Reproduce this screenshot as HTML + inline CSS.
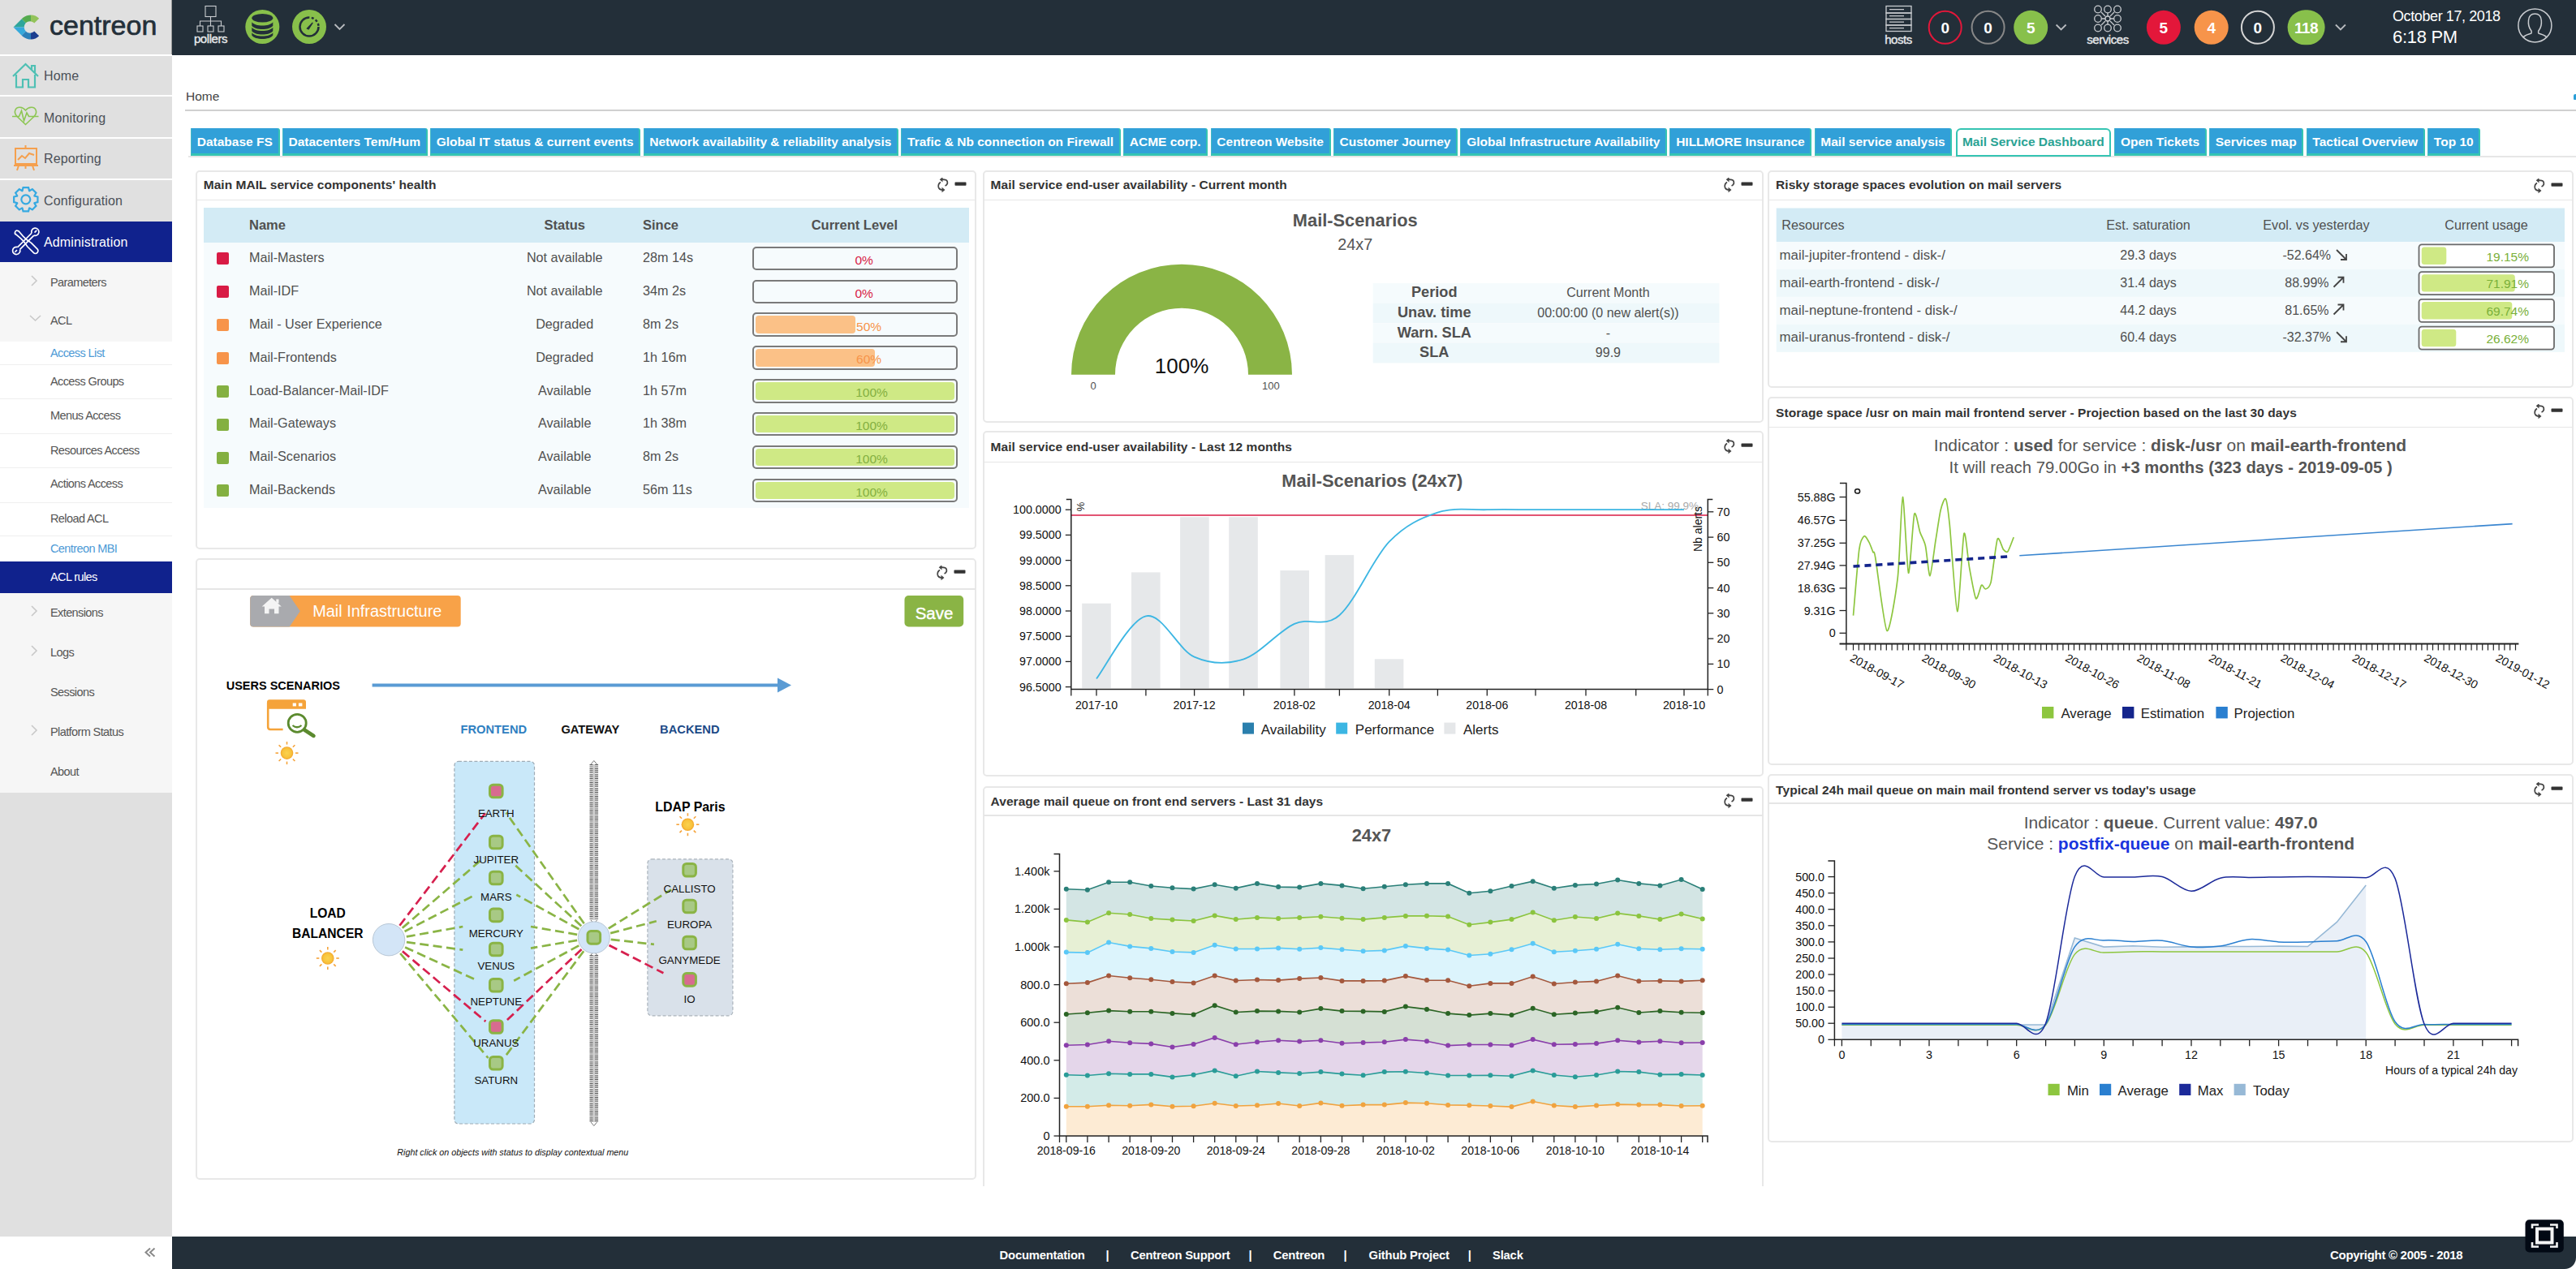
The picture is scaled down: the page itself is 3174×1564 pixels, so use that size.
<!DOCTYPE html>
<html><head><meta charset="utf-8">
<style>
*{box-sizing:border-box;margin:0;padding:0}
html,body{width:3174px;height:1564px;overflow:hidden;background:#fff;font-family:"Liberation Sans",sans-serif;color:#333;position:relative}
.abs{position:absolute}
#side{position:absolute;left:0;top:0;width:212px;height:1564px;background:#e0e0e0}
#top{position:absolute;left:212px;top:0;width:2962px;height:68px;background:#232f39}
#foot{position:absolute;left:212px;top:1524px;width:2962px;height:40px;background:#232f39;border-bottom-right-radius:14px}
.tx{white-space:nowrap;line-height:1}
.mi{position:absolute;left:0;width:212px;height:49px;background:#e0e0e0;border-top:2px solid #fff}
.mi span{position:absolute;left:54px;top:13px;font-size:16px;color:#4a4f55;letter-spacing:0.1px}
.sub{position:absolute;left:62px;font-size:14.5px;color:#444;letter-spacing:-0.6px;white-space:nowrap}
.subline{position:absolute;left:0;width:212px;height:1px;background:#eee}
.tab{position:absolute;top:158px;height:34px;background:#31a0d8;border-bottom:3px solid #35c4b2;border-right:2px solid #35c4b2;color:#fff;font-weight:bold;font-size:15.5px;padding:9px 0 0 8px;white-space:nowrap;border-top-right-radius:3px}
.tb{height:33.5px;background:#31a0d8;border-bottom:3px solid #35c4b2;border-left:1px solid #44b9c4;border-right:2px solid #35c4b2;color:#fff;font-weight:bold;font-size:15.5px;line-height:1;padding:8.6px 6.75px 0 6.75px;white-space:nowrap;border-top-right-radius:3px}
.tb.act{background:#fff;color:#2aa394;border:2px solid #35c4b2;height:35px;padding:6.6px 6.25px 0 6.25px;border-radius:6px 6px 0 0;margin:0 1px}
.card{position:absolute;border:2px solid #e8e8e8;border-radius:5px;background:#fff}
.ch{position:absolute;left:0;top:0;right:0;height:35px;border-bottom:1px solid #e3e3e3}
.ct{position:absolute;left:9px;top:6.5px;font-weight:bold;font-size:15.5px;color:#333;white-space:nowrap}
</style></head><body>
<!-- SIDEBAR -->
<div id="side">
<div class="abs" style="left:0;top:67px;width:212px;height:2px;background:#fff"></div>
<div class="abs" style="left:211px;top:0;width:1px;height:67px;background:#9a9a9a"></div>
<div class="abs" style="left:0;top:117px;width:212px;height:2px;background:#fff"></div>
<div class="abs" style="left:0;top:169px;width:212px;height:2px;background:#fff"></div>
<div class="abs" style="left:0;top:220px;width:212px;height:2px;background:#fff"></div>
<div class="abs" style="left:0;top:273px;width:212px;height:50px;background:#10228d"></div>
<div class="abs" style="left:0;top:323px;width:212px;height:98px;background:#f6f6f6"></div>
<div class="abs" style="left:0;top:421px;width:212px;height:271px;background:#fff"></div>
<div class="abs" style="left:0;top:449px;width:212px;height:1px;background:#efefef"></div>
<div class="abs" style="left:0;top:491px;width:212px;height:1px;background:#efefef"></div>
<div class="abs" style="left:0;top:534px;width:212px;height:1px;background:#efefef"></div>
<div class="abs" style="left:0;top:576px;width:212px;height:1px;background:#efefef"></div>
<div class="abs" style="left:0;top:619px;width:212px;height:1px;background:#efefef"></div>
<div class="abs" style="left:0;top:660px;width:212px;height:1px;background:#efefef"></div>
<div class="abs" style="left:0;top:692px;width:212px;height:39px;background:#10228d"></div>
<div class="abs" style="left:0;top:731px;width:212px;height:246px;background:#f6f6f6"></div>
<div class="abs" style="left:0;top:1524px;width:212px;height:40px;background:#fff"></div>
<div class="abs tx" style="left:54px;top:86.4px;font-size:16px;color:#4b5058;letter-spacing:0.15px">Home</div>
<div class="abs tx" style="left:54px;top:137.5px;font-size:16px;color:#4b5058;letter-spacing:0.15px">Monitoring</div>
<div class="abs tx" style="left:54px;top:188.3px;font-size:16px;color:#4b5058;letter-spacing:0.15px">Reporting</div>
<div class="abs tx" style="left:54px;top:239.5px;font-size:16px;color:#4b5058;letter-spacing:0.15px">Configuration</div>
<div class="abs tx" style="left:54px;top:290.5px;font-size:16px;color:#fff;letter-spacing:0.15px">Administration</div>
<div class="abs tx" style="left:62px;top:340.7px;font-size:14.5px;color:#555;letter-spacing:-0.6px">Parameters</div>
<div class="abs tx" style="left:62px;top:388.0px;font-size:14.5px;color:#555;letter-spacing:-0.6px">ACL</div>
<div class="abs tx" style="left:62px;top:427.7px;font-size:14.5px;color:#4d9ad6;letter-spacing:-0.6px">Access List</div>
<div class="abs tx" style="left:62px;top:463.3px;font-size:14.5px;color:#555;letter-spacing:-0.6px">Access Groups</div>
<div class="abs tx" style="left:62px;top:504.7px;font-size:14.5px;color:#555;letter-spacing:-0.6px">Menus Access</div>
<div class="abs tx" style="left:62px;top:547.5px;font-size:14.5px;color:#555;letter-spacing:-0.6px">Resources Access</div>
<div class="abs tx" style="left:62px;top:589.1px;font-size:14.5px;color:#555;letter-spacing:-0.6px">Actions Access</div>
<div class="abs tx" style="left:62px;top:631.7px;font-size:14.5px;color:#555;letter-spacing:-0.6px">Reload ACL</div>
<div class="abs tx" style="left:62px;top:668.5px;font-size:14.5px;color:#4d9ad6;letter-spacing:-0.6px">Centreon MBI</div>
<div class="abs tx" style="left:62px;top:703.7px;font-size:14.5px;color:#fff;letter-spacing:-0.6px">ACL rules</div>
<div class="abs tx" style="left:62px;top:748.0px;font-size:14.5px;color:#555;letter-spacing:-0.6px">Extensions</div>
<div class="abs tx" style="left:62px;top:797.2px;font-size:14.5px;color:#555;letter-spacing:-0.6px">Logs</div>
<div class="abs tx" style="left:62px;top:846.3px;font-size:14.5px;color:#555;letter-spacing:-0.6px">Sessions</div>
<div class="abs tx" style="left:62px;top:894.6px;font-size:14.5px;color:#555;letter-spacing:-0.6px">Platform Status</div>
<div class="abs tx" style="left:62px;top:944.2px;font-size:14.5px;color:#555;letter-spacing:-0.6px">About</div>
<svg class="abs" style="left:0;top:0" width="212" height="1000"><path d="M39 340 L45 346 L39 352" fill="none" stroke="#c8c8c8" stroke-width="1.6"/><path d="M39 747 L45 753 L39 759" fill="none" stroke="#c8c8c8" stroke-width="1.6"/><path d="M39 796 L45 802 L39 808" fill="none" stroke="#c8c8c8" stroke-width="1.6"/><path d="M39 894 L45 900 L39 906" fill="none" stroke="#c8c8c8" stroke-width="1.6"/><path d="M37 389 L43.5 395 L50 389" fill="none" stroke="#c8c8c8" stroke-width="1.6"/><defs><clipPath id="lgc"><path d="M16.5 33.5 L28 22 C31 19.5 35 18.5 38.5 18.5 C42 18.5 45.5 20 48.2 22.8 L42.2 28.6 C40.7 27.2 39 26.3 37 26.3 C33 26.3 29.8 29.5 29.8 33.5 C29.8 37.5 33 40.7 37 40.7 C39 40.7 40.7 39.9 42.2 38.5 L48.2 44.3 C45.5 47 42 48.6 38.5 48.6 C35 48.6 31 47.5 28 45 Z"/></clipPath></defs>
<g clip-path="url(#lgc)">
<polygon points="10,33.5 37,33.5 19,15.5 10,15.5" fill="#2ea59a"/>
<polygon points="37,33.5 19,15.5 38,15.5 38,33.5" fill="#55ab4f"/>
<polygon points="38,15.5 55,15.5 55,33.5 38,33.5" fill="#93c35b"/>
<polygon points="10,33.5 37,33.5 19,51.5 10,51.5" fill="#35a9db"/>
<polygon points="37,33.5 19,51.5 38,51.5 38,33.5" fill="#2b80b9"/>
<polygon points="38,33.5 55,33.5 55,51.5 38,51.5" fill="#1c3e90"/>
</g><g fill="none" stroke="#4fc0b4" stroke-width="2.2"><path d="M16 94 L31.5 79 L47 94"/><path d="M20 92 V107.5 H28 V98 H35 V107.5 H43 V92"/><path d="M39 86 V81 H43 V90"/></g><g fill="none" stroke="#8dc653" stroke-width="1.6"><path d="M31.5 153.5 L21 143.5 C16 138 19 132 24.5 132.3 C27.5 132.5 30 134 31.5 136 C33 134 35.5 132.5 38.5 132.3 C44 132 47 138 42 143.5 Z"/><path d="M15 143.5 H23.5 L26.5 136.5 L29.5 149 L33 139 L35.5 143.5 H47.5"/></g><g fill="none" stroke="#f5a04e" stroke-width="2"><rect x="19" y="183" width="26" height="19"/><path d="M17 204 H47"/><path d="M23 204 L21 210 M31.5 204 V208 M40 204 L42 210"/><path d="M22 197 L27 192 L31 195 L36 189 L42 191"/><path d="M31.5 179 V183"/></g><g transform="translate(31.8,245.8)" fill="none" stroke="#35a9e1" stroke-width="2.2"><polygon points="14.64,-3.27 14.64,3.27 10.68,4.27 10.57,4.54 12.67,8.04 8.04,12.67 4.54,10.57 4.27,10.68 3.27,14.64 -3.27,14.64 -4.27,10.68 -4.54,10.57 -8.04,12.67 -12.67,8.04 -10.57,4.54 -10.68,4.27 -14.64,3.27 -14.64,-3.27 -10.68,-4.27 -10.57,-4.54 -12.67,-8.04 -8.04,-12.67 -4.54,-10.57 -4.27,-10.68 -3.27,-14.64 3.27,-14.64 4.27,-10.68 4.54,-10.57 8.04,-12.67 12.67,-8.04 10.57,-4.54 10.68,-4.27"/><circle r="5.5"/></g><g fill="none" stroke="#fff" stroke-width="1.7" stroke-linejoin="round">
<g transform="rotate(45 31.8 297.3)"><path d="M15.5 295.3 A2.5 2.5 0 0 1 18 294.8 L25 295.3 L31 295.3 L38 294 H48.5 A3.3 3.3 0 0 1 48.5 300.6 H38 L31 299.3 H25 L18 299.8 A2.5 2.5 0 0 1 15.5 295.3 Z"/></g>
<g transform="rotate(-45 31.8 297.3)"><path d="M19.5 295.3 H44 M19.5 299.3 H44"/><path d="M19.5 295.3 A4.6 4.6 0 1 0 19.5 299.3 M16.5 297.3 H12.8"/><path d="M44 295.3 A4.6 4.6 0 1 1 44 299.3 M47 297.3 H50.8"/></g>
</g></svg>
<svg class="abs" style="left:170px;top:1534px" width="30" height="20"><path d="M15 4.5 L9.5 9.5 L15 14.5 M20.5 4.5 L15 9.5 L20.5 14.5" fill="none" stroke="#8a8a8a" stroke-width="2"/></svg>
<div class="abs tx" style="left:61px;top:13.6px;font-size:34px;color:#232f39;-webkit-text-stroke:0.7px #232f39">centreon</div>
</div>
<!-- TOPBAR -->
<div id="top"></div>
<svg class="abs" style="left:0;top:0" width="3174" height="68">
<g fill="none" stroke="#c9ccd0" stroke-width="1.1">
<rect x="253" y="7.5" width="13" height="13"/>
<path d="M259.5 20.5 V26 M246.5 32 V26 H272.5 V32 M259.5 26 V32"/>
<rect x="243" y="32" width="7" height="7"/><rect x="256" y="32" width="7" height="7"/><rect x="269" y="32" width="7" height="7"/>
</g>
<text x="259.5" y="52.5" text-anchor="middle" font-size="15" fill="#e8eaec" stroke="#e8eaec" stroke-width="0.35" letter-spacing="-0.45">pollers</text>
<circle cx="323.3" cy="33" r="21" fill="#88c04b"/>
<ellipse cx="323.3" cy="22.3" rx="13" ry="5.3" fill="#232f39"/>
<path d="M310.3 27.3 C314 33 332.6 33 336.3 27.3 V31.8 C332.6 37.5 314 37.5 310.3 31.8Z" fill="#232f39"/>
<path d="M310.3 33.8 C314 39.5 332.6 39.5 336.3 33.8 V38.3 C332.6 44 314 44 310.3 38.3Z" fill="#232f39"/>
<path d="M310.3 40.3 C314 46 332.6 46 336.3 40.3 V43.5 C332.6 49.5 314 49.5 310.3 43.5Z" fill="#232f39"/>
<circle cx="381" cy="33" r="21" fill="#88c04b"/>
<circle cx="381" cy="33" r="11.5" fill="none" stroke="#232f39" stroke-width="2.5" stroke-dasharray="54.2 2.5 3 2.5 3 2.5 3 2.5 3 2.5" transform="rotate(0 381 33)"/>
<path d="M378.3 35.2 L385 28.3 L380.2 36 Z" fill="#232f39" stroke="#232f39" stroke-width="1.3" stroke-linejoin="round"/>
<path d="M412.5 30 L418.5 36 L424.5 30" fill="none" stroke="#b9bcc0" stroke-width="1.8"/>
<g fill="none" stroke="#c9ccd0" stroke-width="1.3">
<rect x="2324" y="7.5" width="31" height="8.5"/><rect x="2324" y="16" width="31" height="7.5"/><rect x="2324" y="23.5" width="31" height="7.5"/><rect x="2324" y="31" width="31" height="7.5"/>
<path d="M2328 11.7 H2346 M2328 19.7 H2346 M2328 27.2 H2346 M2328 34.7 H2346"/>
</g>
<text x="2339" y="53.5" text-anchor="middle" font-size="15" fill="#e8eaec" stroke="#e8eaec" stroke-width="0.35" letter-spacing="-0.45">hosts</text>
<circle cx="2396.7" cy="33.8" r="20" fill="none" stroke="#e3173a" stroke-width="2"/>
<text x="2396.7" y="41" text-anchor="middle" font-size="19" font-weight="bold" fill="#fff">0</text>
<circle cx="2449.6" cy="33.8" r="20" fill="none" stroke="#888" stroke-width="2"/>
<text x="2449.6" y="41" text-anchor="middle" font-size="19" font-weight="bold" fill="#fff">0</text>
<circle cx="2502.2" cy="33.8" r="21" fill="#88c04b"/>
<text x="2502.2" y="41" text-anchor="middle" font-size="19" font-weight="bold" fill="#fff">5</text>
<path d="M2533.6 30.5 L2539.6 36.5 L2545.6 30.5" fill="none" stroke="#b9bcc0" stroke-width="1.8"/>
<g fill="none" stroke="#c9ccd0" stroke-width="1.3">
<circle cx="2585" cy="11.5" r="4.3"/><circle cx="2597" cy="11.5" r="4.3"/><circle cx="2609" cy="11.5" r="4.3"/>
<circle cx="2585" cy="23" r="4.3"/><circle cx="2597" cy="23" r="3"/><circle cx="2609" cy="23" r="4.3"/>
<circle cx="2585" cy="34.5" r="4.3"/><circle cx="2597" cy="34.5" r="4.3"/><circle cx="2609" cy="34.5" r="4.3"/>
<path d="M2589 15 L2594 20 M2605 15 L2600 20 M2589 31 L2594 26 M2605 31 L2600 26 M2597 16 V20 M2597 26 V30 M2589.5 23 H2594 M2600 23 H2604.5"/>
</g>
<text x="2597" y="53.5" text-anchor="middle" font-size="15" fill="#e8eaec" stroke="#e8eaec" stroke-width="0.35" letter-spacing="-0.45">services</text>
<circle cx="2665.9" cy="33.8" r="21" fill="#e3173a"/>
<text x="2665.9" y="41" text-anchor="middle" font-size="19" font-weight="bold" fill="#fff">5</text>
<circle cx="2724.7" cy="33.8" r="21" fill="#f7944a"/>
<text x="2724.7" y="41" text-anchor="middle" font-size="19" font-weight="bold" fill="#fff">4</text>
<circle cx="2781.9" cy="33.8" r="20" fill="none" stroke="#d5d5d5" stroke-width="2"/>
<text x="2781.9" y="41" text-anchor="middle" font-size="19" font-weight="bold" fill="#fff">0</text>
<rect x="2818.6" y="12.3" width="46" height="43" rx="21.5" fill="#88c04b"/>
<text x="2841.6" y="41" text-anchor="middle" font-size="19" font-weight="bold" fill="#fff" letter-spacing="-0.5">118</text>
<path d="M2877.9 30.5 L2883.9 36.5 L2889.9 30.5" fill="none" stroke="#b9bcc0" stroke-width="1.8"/>
<text x="2948" y="25.5" font-size="18" fill="#fff" letter-spacing="-0.4">October 17, 2018</text>
<text x="2948" y="53.2" font-size="22" fill="#fff" letter-spacing="-0.3">6:18 PM</text>
<g fill="none" stroke="#c9ccd0" stroke-width="1.5">
<circle cx="3123.4" cy="31.4" r="20.5"/>
<path d="M3109 46 C3111 43 3115 42.5 3118.5 41.3 C3119.5 40.5 3119.5 38.5 3118.3 37 C3116 34 3115 30 3115.5 25 C3116 19.5 3119.5 17 3123.4 17 C3127.3 17 3130.8 19.5 3131.3 25 C3131.8 30 3130.8 34 3128.5 37 C3127.3 38.5 3127.3 40.5 3128.3 41.3 C3131.8 42.5 3135.8 43 3137.8 46"/>
</g>
</svg>
<!-- BREADCRUMB -->
<div class="abs" style="left:229px;top:110px;font-size:15.5px;color:#444">Home</div>
<div class="abs" style="left:228px;top:135px;width:2946px;height:2px;background:#d0d0d0"></div>
<div class="abs" style="left:3171px;top:115.5px;width:4px;height:7px;background:#2a9fd8;border-radius:2px 0 0 1px"></div>
<div class="abs" style="left:232px;top:192px;width:2942px;height:2px;background:#e6e6e6"></div>
<div id="tabs" class="abs" style="left:235px;top:158px;height:36px;display:flex;gap:3.2px;align-items:flex-start"><div class="tb">Database FS</div><div class="tb">Datacenters Tem/Hum</div><div class="tb">Global IT status &amp; current events</div><div class="tb">Network availability &amp; reliability analysis</div><div class="tb">Trafic &amp; Nb connection on Firewall</div><div class="tb">ACME corp.</div><div class="tb">Centreon Website</div><div class="tb">Customer Journey</div><div class="tb">Global Infrastructure Availability</div><div class="tb">HILLMORE Insurance</div><div class="tb">Mail service analysis</div><div class="tb act">Mail Service Dashboard</div><div class="tb">Open Tickets</div><div class="tb">Services map</div><div class="tb">Tactical Overview</div><div class="tb">Top 10</div></div>
<!-- CARDS -->
<div class="card" style="left:240.7px;top:209.8px;width:962.8px;height:467.1px"></div>
<div class="abs" style="left:241.7px;top:245.6px;width:960.8px;height:1.6px;background:#e6e6e6"></div>
<div class="abs tx" style="left:250.7px;top:219.7px;font-size:15.5px;font-weight:bold;color:#333;letter-spacing:0.05px">Main MAIL service components' health</div>
<div class="card" style="left:240.7px;top:687.5px;width:962.7px;height:766.7px"></div>
<div class="abs" style="left:241.7px;top:725.2px;width:960.7px;height:1.6px;background:#e6e6e6"></div>
<div class="card" style="left:1210.6px;top:209.8px;width:962.4px;height:310.8px"></div>
<div class="abs" style="left:1211.6px;top:245.6px;width:960.4px;height:1.6px;background:#e6e6e6"></div>
<div class="abs tx" style="left:1220.6px;top:219.7px;font-size:15.5px;font-weight:bold;color:#333;letter-spacing:0.05px">Mail service end-user availability - Current month</div>
<div class="card" style="left:1210.6px;top:531.4px;width:962.4px;height:426.1px"></div>
<div class="abs" style="left:1211.6px;top:568.6px;width:960.4px;height:1.6px;background:#e6e6e6"></div>
<div class="abs tx" style="left:1220.6px;top:542.7px;font-size:15.5px;font-weight:bold;color:#333;letter-spacing:0.05px">Mail service end-user availability - Last 12 months</div>
<div class="card" style="left:1210.6px;top:968.6px;width:962.4px;height:532.4px"></div>
<div class="abs" style="left:1211.6px;top:1004.0px;width:960.4px;height:1.6px;background:#e6e6e6"></div>
<div class="abs tx" style="left:1220.6px;top:979.7px;font-size:15.5px;font-weight:bold;color:#333;letter-spacing:0.05px">Average mail queue on front end servers - Last 31 days</div>
<div class="card" style="left:2178.1px;top:210.0px;width:993.2px;height:267.7px"></div>
<div class="abs" style="left:2179.1px;top:245.5px;width:991.2px;height:1.6px;background:#e6e6e6"></div>
<div class="abs tx" style="left:2188.1px;top:219.7px;font-size:15.5px;font-weight:bold;color:#333;letter-spacing:0.05px">Risky storage spaces evolution on mail servers</div>
<div class="card" style="left:2178.1px;top:488.9px;width:993.2px;height:454.4px"></div>
<div class="abs" style="left:2179.1px;top:525.9px;width:991.2px;height:1.6px;background:#e6e6e6"></div>
<div class="abs tx" style="left:2188.1px;top:500.5px;font-size:15.5px;font-weight:bold;color:#333;letter-spacing:0.05px">Storage space /usr on main mail frontend server - Projection based on the last 30 days</div>
<div class="card" style="left:2178.1px;top:954.1px;width:993.2px;height:453.7px"></div>
<div class="abs" style="left:2179.1px;top:989.4px;width:991.2px;height:1.6px;background:#e6e6e6"></div>
<div class="abs tx" style="left:2188.1px;top:965.8px;font-size:15.5px;font-weight:bold;color:#333;letter-spacing:0.05px">Typical 24h mail queue on main mail frontend server vs today's usage</div>
<div class="abs" style="left:1150px;top:1461.5px;width:1100px;height:62px;background:#fff"></div>
<!-- ICONS -->
<svg class="abs" style="left:1153.5px;top:219.3px" width="44" height="20"><g fill="none" stroke="#444" stroke-width="1.7"><path d="M5 5.5 C2.5 7 2 9.5 2.3 11.5 C2.8 14 4.5 15 8 15"/><path d="M10.5 10 C13 9 13.6 6.5 13.2 4.8 C12.8 3 11 2.2 7 2.2"/></g><path d="M6.5 11.8 L10.5 15 L6.5 18.2Z M7.5 -0.8 L3.7 2.2 L7.5 5.4Z" fill="#444"/><rect x="22.5" y="5.6" width="14" height="4.2" rx="0.8" fill="#333"/></svg>
<svg class="abs" style="left:1153.4px;top:697.0px" width="44" height="20"><g fill="none" stroke="#444" stroke-width="1.7"><path d="M5 5.5 C2.5 7 2 9.5 2.3 11.5 C2.8 14 4.5 15 8 15"/><path d="M10.5 10 C13 9 13.6 6.5 13.2 4.8 C12.8 3 11 2.2 7 2.2"/></g><path d="M6.5 11.8 L10.5 15 L6.5 18.2Z M7.5 -0.8 L3.7 2.2 L7.5 5.4Z" fill="#444"/><rect x="22.5" y="5.6" width="14" height="4.2" rx="0.8" fill="#333"/></svg>
<svg class="abs" style="left:2123.0px;top:219.3px" width="44" height="20"><g fill="none" stroke="#444" stroke-width="1.7"><path d="M5 5.5 C2.5 7 2 9.5 2.3 11.5 C2.8 14 4.5 15 8 15"/><path d="M10.5 10 C13 9 13.6 6.5 13.2 4.8 C12.8 3 11 2.2 7 2.2"/></g><path d="M6.5 11.8 L10.5 15 L6.5 18.2Z M7.5 -0.8 L3.7 2.2 L7.5 5.4Z" fill="#444"/><rect x="22.5" y="5.6" width="14" height="4.2" rx="0.8" fill="#333"/></svg>
<svg class="abs" style="left:2123.0px;top:540.9px" width="44" height="20"><g fill="none" stroke="#444" stroke-width="1.7"><path d="M5 5.5 C2.5 7 2 9.5 2.3 11.5 C2.8 14 4.5 15 8 15"/><path d="M10.5 10 C13 9 13.6 6.5 13.2 4.8 C12.8 3 11 2.2 7 2.2"/></g><path d="M6.5 11.8 L10.5 15 L6.5 18.2Z M7.5 -0.8 L3.7 2.2 L7.5 5.4Z" fill="#444"/><rect x="22.5" y="5.6" width="14" height="4.2" rx="0.8" fill="#333"/></svg>
<svg class="abs" style="left:2123.0px;top:978.1px" width="44" height="20"><g fill="none" stroke="#444" stroke-width="1.7"><path d="M5 5.5 C2.5 7 2 9.5 2.3 11.5 C2.8 14 4.5 15 8 15"/><path d="M10.5 10 C13 9 13.6 6.5 13.2 4.8 C12.8 3 11 2.2 7 2.2"/></g><path d="M6.5 11.8 L10.5 15 L6.5 18.2Z M7.5 -0.8 L3.7 2.2 L7.5 5.4Z" fill="#444"/><rect x="22.5" y="5.6" width="14" height="4.2" rx="0.8" fill="#333"/></svg>
<svg class="abs" style="left:3121.3px;top:219.5px" width="44" height="20"><g fill="none" stroke="#444" stroke-width="1.7"><path d="M5 5.5 C2.5 7 2 9.5 2.3 11.5 C2.8 14 4.5 15 8 15"/><path d="M10.5 10 C13 9 13.6 6.5 13.2 4.8 C12.8 3 11 2.2 7 2.2"/></g><path d="M6.5 11.8 L10.5 15 L6.5 18.2Z M7.5 -0.8 L3.7 2.2 L7.5 5.4Z" fill="#444"/><rect x="22.5" y="5.6" width="14" height="4.2" rx="0.8" fill="#333"/></svg>
<svg class="abs" style="left:3121.3px;top:498.4px" width="44" height="20"><g fill="none" stroke="#444" stroke-width="1.7"><path d="M5 5.5 C2.5 7 2 9.5 2.3 11.5 C2.8 14 4.5 15 8 15"/><path d="M10.5 10 C13 9 13.6 6.5 13.2 4.8 C12.8 3 11 2.2 7 2.2"/></g><path d="M6.5 11.8 L10.5 15 L6.5 18.2Z M7.5 -0.8 L3.7 2.2 L7.5 5.4Z" fill="#444"/><rect x="22.5" y="5.6" width="14" height="4.2" rx="0.8" fill="#333"/></svg>
<svg class="abs" style="left:3121.3px;top:963.6px" width="44" height="20"><g fill="none" stroke="#444" stroke-width="1.7"><path d="M5 5.5 C2.5 7 2 9.5 2.3 11.5 C2.8 14 4.5 15 8 15"/><path d="M10.5 10 C13 9 13.6 6.5 13.2 4.8 C12.8 3 11 2.2 7 2.2"/></g><path d="M6.5 11.8 L10.5 15 L6.5 18.2Z M7.5 -0.8 L3.7 2.2 L7.5 5.4Z" fill="#444"/><rect x="22.5" y="5.6" width="14" height="4.2" rx="0.8" fill="#333"/></svg>
<!-- C1 -->
<div class="abs" style="left:251px;top:256px;width:943px;height:43px;background:#d3ebf5"></div>
<div class="abs" style="left:251px;top:299px;width:943px;height:327px;background:#f6fbfd"></div>
<div class="abs tx" style="left:307px;top:268.7px;font-size:16.5px;font-weight:bold;color:#505050">Name</div>
<div class="abs tx" style="left:395.70000000000005px;width:600px;text-align:center;top:268.7px;font-size:16.5px;font-weight:bold;color:#505050">Status</div>
<div class="abs tx" style="left:792px;top:268.7px;font-size:16.5px;font-weight:bold;color:#505050">Since</div>
<div class="abs tx" style="left:752.9000000000001px;width:600px;text-align:center;top:268.7px;font-size:16.5px;font-weight:bold;color:#505050">Current Level</div>
<div class="abs" style="left:267px;top:311.4px;width:15px;height:15px;border-radius:2px;background:#d81b45"></div>
<div class="abs tx" style="left:307px;top:309.2px;font-size:16.2px;color:#505050">Mail-Masters</div>
<div class="abs tx" style="left:395.70000000000005px;width:600px;text-align:center;top:309.2px;font-size:16.2px;color:#505050">Not available</div>
<div class="abs tx" style="left:792px;top:309.2px;font-size:16.2px;color:#505050">28m 14s</div>
<div class="abs" style="left:927px;top:303.6px;width:253px;height:29.5px;border:2px solid #7a7a7a;border-radius:5px;background:transparent"></div>
<div class="abs tx" style="left:764.7px;width:600px;text-align:center;top:312.8px;font-size:15.5px;color:#d81b45">0%</div>
<div class="abs" style="left:267px;top:352.2px;width:15px;height:15px;border-radius:2px;background:#d81b45"></div>
<div class="abs tx" style="left:307px;top:350.0px;font-size:16.2px;color:#505050">Mail-IDF</div>
<div class="abs tx" style="left:395.70000000000005px;width:600px;text-align:center;top:350.0px;font-size:16.2px;color:#505050">Not available</div>
<div class="abs tx" style="left:792px;top:350.0px;font-size:16.2px;color:#505050">34m 2s</div>
<div class="abs" style="left:927px;top:344.5px;width:253px;height:29.5px;border:2px solid #7a7a7a;border-radius:5px;background:transparent"></div>
<div class="abs tx" style="left:764.7px;width:600px;text-align:center;top:353.6px;font-size:15.5px;color:#d81b45">0%</div>
<div class="abs" style="left:267px;top:393.1px;width:15px;height:15px;border-radius:2px;background:#f7944a"></div>
<div class="abs tx" style="left:307px;top:390.9px;font-size:16.2px;color:#505050">Mail - User Experience</div>
<div class="abs tx" style="left:395.70000000000005px;width:600px;text-align:center;top:390.9px;font-size:16.2px;color:#505050">Degraded</div>
<div class="abs tx" style="left:792px;top:390.9px;font-size:16.2px;color:#505050">8m 2s</div>
<div class="abs" style="left:927px;top:385.3px;width:253px;height:29.5px;border:2px solid #7a7a7a;border-radius:5px;background:transparent"></div>
<div class="abs" style="left:931px;top:389.3px;width:122.5px;height:21.5px;border-radius:4px;background:#fbc187"></div>
<div class="abs tx" style="left:770.6px;width:600px;text-align:center;top:394.5px;font-size:15.5px;color:#f7944a">50%</div>
<div class="abs" style="left:267px;top:433.9px;width:15px;height:15px;border-radius:2px;background:#f7944a"></div>
<div class="abs tx" style="left:307px;top:431.7px;font-size:16.2px;color:#505050">Mail-Frontends</div>
<div class="abs tx" style="left:395.70000000000005px;width:600px;text-align:center;top:431.7px;font-size:16.2px;color:#505050">Degraded</div>
<div class="abs tx" style="left:792px;top:431.7px;font-size:16.2px;color:#505050">1h 16m</div>
<div class="abs" style="left:927px;top:426.2px;width:253px;height:29.5px;border:2px solid #7a7a7a;border-radius:5px;background:transparent"></div>
<div class="abs" style="left:931px;top:430.2px;width:147.0px;height:21.5px;border-radius:4px;background:#fbc187"></div>
<div class="abs tx" style="left:770.6px;width:600px;text-align:center;top:435.3px;font-size:15.5px;color:#f7944a">60%</div>
<div class="abs" style="left:267px;top:474.8px;width:15px;height:15px;border-radius:2px;background:#84b041"></div>
<div class="abs tx" style="left:307px;top:472.6px;font-size:16.2px;color:#505050">Load-Balancer-Mail-IDF</div>
<div class="abs tx" style="left:395.70000000000005px;width:600px;text-align:center;top:472.6px;font-size:16.2px;color:#505050">Available</div>
<div class="abs tx" style="left:792px;top:472.6px;font-size:16.2px;color:#505050">1h 57m</div>
<div class="abs" style="left:927px;top:467.0px;width:253px;height:29.5px;border:2px solid #7a7a7a;border-radius:5px;background:transparent"></div>
<div class="abs" style="left:931px;top:471.0px;width:245.0px;height:21.5px;border-radius:4px;background:#cfe985"></div>
<div class="abs tx" style="left:774.0px;width:600px;text-align:center;top:476.2px;font-size:15.5px;color:#84b041">100%</div>
<div class="abs" style="left:267px;top:515.6px;width:15px;height:15px;border-radius:2px;background:#84b041"></div>
<div class="abs tx" style="left:307px;top:513.4px;font-size:16.2px;color:#505050">Mail-Gateways</div>
<div class="abs tx" style="left:395.70000000000005px;width:600px;text-align:center;top:513.4px;font-size:16.2px;color:#505050">Available</div>
<div class="abs tx" style="left:792px;top:513.4px;font-size:16.2px;color:#505050">1h 38m</div>
<div class="abs" style="left:927px;top:507.9px;width:253px;height:29.5px;border:2px solid #7a7a7a;border-radius:5px;background:transparent"></div>
<div class="abs" style="left:931px;top:511.9px;width:245.0px;height:21.5px;border-radius:4px;background:#cfe985"></div>
<div class="abs tx" style="left:774.0px;width:600px;text-align:center;top:517.0px;font-size:15.5px;color:#84b041">100%</div>
<div class="abs" style="left:267px;top:556.5px;width:15px;height:15px;border-radius:2px;background:#84b041"></div>
<div class="abs tx" style="left:307px;top:554.3px;font-size:16.2px;color:#505050">Mail-Scenarios</div>
<div class="abs tx" style="left:395.70000000000005px;width:600px;text-align:center;top:554.3px;font-size:16.2px;color:#505050">Available</div>
<div class="abs tx" style="left:792px;top:554.3px;font-size:16.2px;color:#505050">8m 2s</div>
<div class="abs" style="left:927px;top:548.7px;width:253px;height:29.5px;border:2px solid #7a7a7a;border-radius:5px;background:transparent"></div>
<div class="abs" style="left:931px;top:552.7px;width:245.0px;height:21.5px;border-radius:4px;background:#cfe985"></div>
<div class="abs tx" style="left:774.0px;width:600px;text-align:center;top:557.9px;font-size:15.5px;color:#84b041">100%</div>
<div class="abs" style="left:267px;top:597.3px;width:15px;height:15px;border-radius:2px;background:#84b041"></div>
<div class="abs tx" style="left:307px;top:595.1px;font-size:16.2px;color:#505050">Mail-Backends</div>
<div class="abs tx" style="left:395.70000000000005px;width:600px;text-align:center;top:595.1px;font-size:16.2px;color:#505050">Available</div>
<div class="abs tx" style="left:792px;top:595.1px;font-size:16.2px;color:#505050">56m 11s</div>
<div class="abs" style="left:927px;top:589.5px;width:253px;height:29.5px;border:2px solid #7a7a7a;border-radius:5px;background:transparent"></div>
<div class="abs" style="left:931px;top:593.5px;width:245.0px;height:21.5px;border-radius:4px;background:#cfe985"></div>
<div class="abs tx" style="left:774.0px;width:600px;text-align:center;top:598.7px;font-size:15.5px;color:#84b041">100%</div>
<!-- FOOTER -->
<div id="foot"></div>
<!-- CHARTS -->
<svg class="abs" style="left:0;top:0" width="3174" height="1564" font-family="Liberation Sans, sans-serif"><defs><radialGradient id="sung"><stop offset="0" stop-color="#fbd24e"/><stop offset="0.7" stop-color="#f8c33c"/><stop offset="1" stop-color="#f3a52c"/></radialGradient></defs><rect x="308.2" y="734" width="259.5" height="38.6" rx="4" fill="#f8a248"/><path d="M312.2 734 H356.7 L369.8 753.3 L356.7 772.6 H312.2 A4 4 0 0 1 308.2 768.6 V738 A4 4 0 0 1 312.2 734Z" fill="#a9aaae"/><path d="M322.7 747.5 L334.7 736.7 L346.8 747.5 H343.5 V756.3 H338 V750.5 H331.5 V756.3 H326 V747.5Z Z" fill="#f4f4f4"/><rect x="340.3" y="738.5" width="3.2" height="5" fill="#f4f4f4"/><text x="385.2" y="759.9" font-size="19.9" text-anchor="start" fill="#fff" font-weight="normal" >Mail Infrastructure</text><rect x="1114.5" y="734" width="72.7" height="38.4" rx="5" fill="#8ab445"/><text x="1151.0" y="762.5" font-size="20.5" text-anchor="middle" fill="#fff" font-weight="normal" stroke="#fff" stroke-width="0.4">Save</text><text x="278.7" y="849.6" font-size="14.5" text-anchor="start" fill="#000" font-weight="bold" >USERS SCENARIOS</text><line x1="458.6" y1="844.5" x2="960" y2="844.5" stroke="#5a9bd4" stroke-width="4.2"/><path d="M958 835.5 L975 844.5 L958 853.5Z" fill="#5a9bd4"/><path d="M348.6 899 H333 A3 3 0 0 1 330.2 896 V866" fill="none" stroke="#f5a33a" stroke-width="2.6"/><path d="M329 873.7 V865 A3 3 0 0 1 332 862.3 H374 A3 3 0 0 1 377 865 V873.7Z" fill="#f5a33a"/><rect x="360.7" y="866.5" width="4.2" height="3.9" fill="#fff"/><rect x="367.9" y="866.5" width="4.5" height="3.9" fill="#fff"/><circle cx="366.2" cy="891.3" r="11" fill="#fff" stroke="#5b8a2e" stroke-width="2.8"/><path d="M360.5 894 Q366 898.5 371.5 894" fill="none" stroke="#5b8a2e" stroke-width="2.2"/><line x1="375" y1="899.5" x2="386.5" y2="907" stroke="#5b8a2e" stroke-width="4.5" stroke-linecap="round"/><g><defs></defs><line x1="364.0" y1="928.1" x2="367.5" y2="928.1" stroke="#f5a33a" stroke-width="1.6"/><line x1="360.9" y1="935.5" x2="363.4" y2="938.0" stroke="#f5a33a" stroke-width="1.6"/><line x1="353.5" y1="938.6" x2="353.5" y2="942.1" stroke="#f5a33a" stroke-width="1.6"/><line x1="346.1" y1="935.5" x2="343.6" y2="938.0" stroke="#f5a33a" stroke-width="1.6"/><line x1="343.0" y1="928.1" x2="339.5" y2="928.1" stroke="#f5a33a" stroke-width="1.6"/><line x1="346.1" y1="920.7" x2="343.6" y2="918.2" stroke="#f5a33a" stroke-width="1.6"/><line x1="353.5" y1="917.6" x2="353.5" y2="914.1" stroke="#f5a33a" stroke-width="1.6"/><line x1="360.9" y1="920.7" x2="363.4" y2="918.2" stroke="#f5a33a" stroke-width="1.6"/><circle cx="353.5" cy="928.1" r="7.8" fill="url(#sung)"/></g><text x="608.3" y="903.6" font-size="14.7" text-anchor="middle" fill="#2f80c1" font-weight="bold" >FRONTEND</text><text x="727.3" y="903.6" font-size="14.7" text-anchor="middle" fill="#111" font-weight="bold" >GATEWAY</text><text x="849.8" y="903.6" font-size="14.7" text-anchor="middle" fill="#1b4a87" font-weight="bold" >BACKEND</text><text x="850.4" y="1000.3" font-size="15.9" text-anchor="middle" fill="#000" font-weight="bold" >LDAP Paris</text><g><defs></defs><line x1="857.9" y1="1016.2" x2="861.4" y2="1016.2" stroke="#f5a33a" stroke-width="1.6"/><line x1="854.8" y1="1023.6" x2="857.3" y2="1026.1" stroke="#f5a33a" stroke-width="1.6"/><line x1="847.4" y1="1026.7" x2="847.4" y2="1030.2" stroke="#f5a33a" stroke-width="1.6"/><line x1="840.0" y1="1023.6" x2="837.5" y2="1026.1" stroke="#f5a33a" stroke-width="1.6"/><line x1="836.9" y1="1016.2" x2="833.4" y2="1016.2" stroke="#f5a33a" stroke-width="1.6"/><line x1="840.0" y1="1008.8" x2="837.5" y2="1006.3" stroke="#f5a33a" stroke-width="1.6"/><line x1="847.4" y1="1005.7" x2="847.4" y2="1002.2" stroke="#f5a33a" stroke-width="1.6"/><line x1="854.8" y1="1008.8" x2="857.3" y2="1006.3" stroke="#f5a33a" stroke-width="1.6"/><circle cx="847.4" cy="1016.2" r="7.8" fill="url(#sung)"/></g><text x="403.8" y="1131.2" font-size="15.6" text-anchor="middle" fill="#000" font-weight="bold" >LOAD</text><text x="403.8" y="1155.8" font-size="15.6" text-anchor="middle" fill="#000" font-weight="bold" >BALANCER</text><g><defs></defs><line x1="414.3" y1="1181.0" x2="417.8" y2="1181.0" stroke="#f5a33a" stroke-width="1.6"/><line x1="411.2" y1="1188.4" x2="413.7" y2="1190.9" stroke="#f5a33a" stroke-width="1.6"/><line x1="403.8" y1="1191.5" x2="403.8" y2="1195.0" stroke="#f5a33a" stroke-width="1.6"/><line x1="396.4" y1="1188.4" x2="393.9" y2="1190.9" stroke="#f5a33a" stroke-width="1.6"/><line x1="393.3" y1="1181.0" x2="389.8" y2="1181.0" stroke="#f5a33a" stroke-width="1.6"/><line x1="396.4" y1="1173.6" x2="393.9" y2="1171.1" stroke="#f5a33a" stroke-width="1.6"/><line x1="403.8" y1="1170.5" x2="403.8" y2="1167.0" stroke="#f5a33a" stroke-width="1.6"/><line x1="411.2" y1="1173.6" x2="413.7" y2="1171.1" stroke="#f5a33a" stroke-width="1.6"/><circle cx="403.8" cy="1181" r="7.8" fill="url(#sung)"/></g><rect x="559.9" y="938.4" width="98.6" height="446.6" rx="5" fill="#c9e8f9" stroke="#9eabb5" stroke-width="1.2" stroke-dasharray="4 2.5"/><rect x="797.9" y="1058.9" width="105" height="192.9" rx="5" fill="#d9e1ea" stroke="#aab3bb" stroke-width="1.2" stroke-dasharray="4 2.5"/><line x1="731.8" y1="942" x2="731.8" y2="1134" stroke="#d0d0d0" stroke-width="2.2"/><line x1="728.6" y1="942" x2="728.6" y2="1134" stroke="#5e5e5e" stroke-width="4.2" stroke-dasharray="0.9 0.8"/><line x1="735" y1="942" x2="735" y2="1134" stroke="#5e5e5e" stroke-width="4.2" stroke-dasharray="0.9 0.8"/><line x1="731.8" y1="1177" x2="731.8" y2="1383" stroke="#d0d0d0" stroke-width="2.2"/><line x1="728.6" y1="1177" x2="728.6" y2="1383" stroke="#5e5e5e" stroke-width="4.2" stroke-dasharray="0.9 0.8"/><line x1="735" y1="1177" x2="735" y2="1383" stroke="#5e5e5e" stroke-width="4.2" stroke-dasharray="0.9 0.8"/><path d="M728 942 L731.8 937.5 L735.6 942 M728 1134 L731.8 1138.5 L735.6 1134 M728 1177 L731.8 1172.5 L735.6 1177 M728 1383 L731.8 1387.5 L735.6 1383" fill="none" stroke="#777" stroke-width="1"/><line x1="492.4" y1="1140.7" x2="597.9" y2="1002.2" stroke="#d6204e" stroke-width="2.7" stroke-dasharray="11 5.5"/><line x1="495.7" y1="1143.8" x2="595.9" y2="1057.3" stroke="#8ab445" stroke-width="2.7" stroke-dasharray="11 5.5"/><line x1="498.6" y1="1148.0" x2="582.1" y2="1104.6" stroke="#8ab445" stroke-width="2.7" stroke-dasharray="11 5.5"/><line x1="500.8" y1="1154.4" x2="570.3" y2="1142.0" stroke="#8ab445" stroke-width="2.7" stroke-dasharray="11 5.5"/><line x1="500.9" y1="1161.2" x2="570.3" y2="1170.6" stroke="#8ab445" stroke-width="2.7" stroke-dasharray="11 5.5"/><line x1="499.1" y1="1167.4" x2="584.0" y2="1206.6" stroke="#8ab445" stroke-width="2.7" stroke-dasharray="11 5.5"/><line x1="495.9" y1="1172.4" x2="598.4" y2="1258.9" stroke="#d6204e" stroke-width="2.7" stroke-dasharray="11 5.5"/><line x1="493.2" y1="1175.0" x2="601.5" y2="1304.0" stroke="#8ab445" stroke-width="2.7" stroke-dasharray="11 5.5"/><line x1="719.7" y1="1138.2" x2="623.5" y2="1001.6" stroke="#8ab445" stroke-width="2.7" stroke-dasharray="11 5.5"/><line x1="716.3" y1="1141.2" x2="630.4" y2="1062.3" stroke="#8ab445" stroke-width="2.7" stroke-dasharray="11 5.5"/><line x1="713.4" y1="1145.3" x2="636.3" y2="1102.7" stroke="#8ab445" stroke-width="2.7" stroke-dasharray="11 5.5"/><line x1="711.1" y1="1151.8" x2="654.0" y2="1142.0" stroke="#8ab445" stroke-width="2.7" stroke-dasharray="11 5.5"/><line x1="711.1" y1="1158.9" x2="654.0" y2="1168.6" stroke="#8ab445" stroke-width="2.7" stroke-dasharray="11 5.5"/><line x1="713.3" y1="1165.4" x2="633.2" y2="1208.7" stroke="#8ab445" stroke-width="2.7" stroke-dasharray="11 5.5"/><line x1="716.6" y1="1169.9" x2="623.0" y2="1258.9" stroke="#d6204e" stroke-width="2.7" stroke-dasharray="11 5.5"/><line x1="719.2" y1="1172.2" x2="621.0" y2="1304.0" stroke="#8ab445" stroke-width="2.7" stroke-dasharray="11 5.5"/><line x1="749.7" y1="1144.3" x2="827.2" y2="1096.3" stroke="#8ab445" stroke-width="2.7" stroke-dasharray="11 5.5"/><line x1="752.1" y1="1150.1" x2="808.8" y2="1135.3" stroke="#8ab445" stroke-width="2.7" stroke-dasharray="11 5.5"/><line x1="752.7" y1="1157.8" x2="805.9" y2="1163.9" stroke="#8ab445" stroke-width="2.7" stroke-dasharray="11 5.5"/><line x1="750.5" y1="1165.0" x2="817.4" y2="1199.3" stroke="#d6204e" stroke-width="2.7" stroke-dasharray="11 5.5"/><circle cx="479.1" cy="1158.2" r="19.7" fill="#d3e5f7" stroke="#b8c7d6" stroke-width="1"/><circle cx="731.8" cy="1155.4" r="19.5" fill="#d3e5f7" stroke="#b8c7d6" stroke-width="1"/><rect x="724.0" y="1147.6" width="15.6" height="15.6" rx="4" fill="#a8c985" stroke="#8ab445" stroke-width="3"/><rect x="603.5" y="967.2" width="15.6" height="15.6" rx="4" fill="#d86b90" stroke="#8ab445" stroke-width="3"/><text x="611.3" y="1007.0" font-size="13.3" text-anchor="middle" fill="#111" font-weight="normal" >EARTH</text><rect x="603.5" y="1030.2" width="15.6" height="15.6" rx="4" fill="#a8c985" stroke="#8ab445" stroke-width="3"/><text x="611.3" y="1064.0" font-size="13.3" text-anchor="middle" fill="#111" font-weight="normal" >JUPITER</text><rect x="603.5" y="1074.2" width="15.6" height="15.6" rx="4" fill="#a8c985" stroke="#8ab445" stroke-width="3"/><text x="611.3" y="1110.0" font-size="13.3" text-anchor="middle" fill="#111" font-weight="normal" >MARS</text><rect x="603.5" y="1120.1" width="15.6" height="15.6" rx="4" fill="#a8c985" stroke="#8ab445" stroke-width="3"/><text x="611.3" y="1155.0" font-size="13.3" text-anchor="middle" fill="#111" font-weight="normal" >MERCURY</text><rect x="603.5" y="1162.2" width="15.6" height="15.6" rx="4" fill="#a8c985" stroke="#8ab445" stroke-width="3"/><text x="611.3" y="1195.4" font-size="13.3" text-anchor="middle" fill="#111" font-weight="normal" >VENUS</text><rect x="603.5" y="1206.4" width="15.6" height="15.6" rx="4" fill="#a8c985" stroke="#8ab445" stroke-width="3"/><text x="611.3" y="1238.8" font-size="13.3" text-anchor="middle" fill="#111" font-weight="normal" >NEPTUNE</text><rect x="603.5" y="1257.7" width="15.6" height="15.6" rx="4" fill="#d86b90" stroke="#8ab445" stroke-width="3"/><text x="611.3" y="1289.6" font-size="13.3" text-anchor="middle" fill="#111" font-weight="normal" >URANUS</text><rect x="603.5" y="1302.5" width="15.6" height="15.6" rx="4" fill="#a8c985" stroke="#8ab445" stroke-width="3"/><text x="611.3" y="1335.7" font-size="13.3" text-anchor="middle" fill="#111" font-weight="normal" >SATURN</text><rect x="841.8" y="1064.5" width="15.6" height="15.6" rx="4" fill="#a8c985" stroke="#8ab445" stroke-width="3"/><text x="849.6" y="1100.4" font-size="13.3" text-anchor="middle" fill="#111" font-weight="normal" >CALLISTO</text><rect x="841.8" y="1109.2" width="15.6" height="15.6" rx="4" fill="#a8c985" stroke="#8ab445" stroke-width="3"/><text x="849.6" y="1143.6" font-size="13.3" text-anchor="middle" fill="#111" font-weight="normal" >EUROPA</text><rect x="841.8" y="1154.2" width="15.6" height="15.6" rx="4" fill="#a8c985" stroke="#8ab445" stroke-width="3"/><text x="849.6" y="1187.8" font-size="13.3" text-anchor="middle" fill="#111" font-weight="normal" >GANYMEDE</text><rect x="841.8" y="1199.6" width="15.6" height="15.6" rx="4" fill="#d86b90" stroke="#8ab445" stroke-width="3"/><text x="849.6" y="1236.0" font-size="13.3" text-anchor="middle" fill="#111" font-weight="normal" >IO</text><text x="631.8" y="1424.3" font-size="10.75" text-anchor="middle" fill="#111" font-weight="normal" font-style="italic">Right click on objects with status to display contextual menu</text></svg>
<svg class="abs" style="left:0;top:0" width="3174" height="1564" font-family="Liberation Sans, sans-serif"><path d="M1320 461.7 A136 136 0 0 1 1592 461.7 L1538 461.7 A82 82 0 0 0 1374 461.7 Z" fill="#8ab445"/><text x="1456.0" y="459.7" font-size="26" text-anchor="middle" fill="#111" font-weight="normal" >100%</text><text x="1347.0" y="479.5" font-size="13" text-anchor="middle" fill="#505050" font-weight="normal" >0</text><text x="1565.8" y="479.5" font-size="13" text-anchor="middle" fill="#505050" font-weight="normal" >100</text><text x="1669.8" y="278.7" font-size="21.8" text-anchor="middle" fill="#555" font-weight="bold" >Mail-Scenarios</text><text x="1669.8" y="307.6" font-size="19.8" text-anchor="middle" fill="#555" font-weight="normal" >24x7</text><rect x="1691.7" y="349.0" width="426.7" height="24.6" fill="#f5fbfd"/><rect x="1691.7" y="373.6" width="426.7" height="24.6" fill="#eef8fb"/><rect x="1691.7" y="398.2" width="426.7" height="24.6" fill="#f5fbfd"/><rect x="1691.7" y="422.8" width="426.7" height="24.6" fill="#eef8fb"/><text x="1767.3" y="366.2" font-size="18.2" text-anchor="middle" fill="#505050" font-weight="bold" >Period</text><text x="1981.4" y="366.2" font-size="16" text-anchor="middle" fill="#505050" font-weight="normal" >Current Month</text><text x="1767.3" y="390.9" font-size="18.2" text-anchor="middle" fill="#505050" font-weight="bold" >Unav. time</text><text x="1981.4" y="390.9" font-size="16" text-anchor="middle" fill="#505050" font-weight="normal" >00:00:00 (0 new alert(s))</text><text x="1767.3" y="415.6" font-size="18.2" text-anchor="middle" fill="#505050" font-weight="bold" >Warn. SLA</text><text x="1981.4" y="415.6" font-size="16" text-anchor="middle" fill="#505050" font-weight="normal" >-</text><text x="1767.3" y="440.3" font-size="18.2" text-anchor="middle" fill="#505050" font-weight="bold" >SLA</text><text x="1981.4" y="440.3" font-size="16" text-anchor="middle" fill="#505050" font-weight="normal" >99.9</text></svg>
<svg class="abs" style="left:0;top:0" width="3174" height="1564" font-family="Liberation Sans, sans-serif"><text x="1690.8" y="600.4" font-size="21.8" text-anchor="middle" fill="#555" font-weight="bold" >Mail-Scenarios (24x7)</text><rect x="1333.2" y="743.7" width="35.6" height="104.5" fill="#e6e8ea"/><rect x="1394" y="705.4" width="35.6" height="142.8" fill="#e6e8ea"/><rect x="1454.1" y="637.3" width="35.6" height="210.9" fill="#e6e8ea"/><rect x="1514.2" y="637.3" width="35.6" height="210.9" fill="#e6e8ea"/><rect x="1577.4" y="703.1" width="35.6" height="145.1" fill="#e6e8ea"/><rect x="1632.6" y="684.1" width="35.6" height="164.1" fill="#e6e8ea"/><rect x="1693.8" y="812.3" width="35.6" height="35.9" fill="#e6e8ea"/><line x1="1319.8" y1="635" x2="2104.3" y2="635" stroke="#d81b45" stroke-width="1.3"/><text x="2093.0" y="627.5" font-size="13.5" text-anchor="end" fill="#aaa" font-weight="normal" >SLA: 99.9%</text><path d="M1313.8 615.6 H1319.8 V849.6 H2104.3 V615.6 H2110.3" fill="none" stroke="#222" stroke-width="1.5"/><line x1="1312.8" y1="628.2" x2="1319.8" y2="628.2" stroke="#222" stroke-width="1.3"/><text x="1307.7" y="633.2" font-size="14.3" text-anchor="end" fill="#111" font-weight="normal" >100.0000</text><line x1="1312.8" y1="659.4" x2="1319.8" y2="659.4" stroke="#222" stroke-width="1.3"/><text x="1307.7" y="664.4" font-size="14.3" text-anchor="end" fill="#111" font-weight="normal" >99.5000</text><line x1="1312.8" y1="690.6" x2="1319.8" y2="690.6" stroke="#222" stroke-width="1.3"/><text x="1307.7" y="695.6" font-size="14.3" text-anchor="end" fill="#111" font-weight="normal" >99.0000</text><line x1="1312.8" y1="721.8" x2="1319.8" y2="721.8" stroke="#222" stroke-width="1.3"/><text x="1307.7" y="726.8" font-size="14.3" text-anchor="end" fill="#111" font-weight="normal" >98.5000</text><line x1="1312.8" y1="753.0" x2="1319.8" y2="753.0" stroke="#222" stroke-width="1.3"/><text x="1307.7" y="758.0" font-size="14.3" text-anchor="end" fill="#111" font-weight="normal" >98.0000</text><line x1="1312.8" y1="784.2" x2="1319.8" y2="784.2" stroke="#222" stroke-width="1.3"/><text x="1307.7" y="789.2" font-size="14.3" text-anchor="end" fill="#111" font-weight="normal" >97.5000</text><line x1="1312.8" y1="815.4" x2="1319.8" y2="815.4" stroke="#222" stroke-width="1.3"/><text x="1307.7" y="820.4" font-size="14.3" text-anchor="end" fill="#111" font-weight="normal" >97.0000</text><line x1="1312.8" y1="846.6" x2="1319.8" y2="846.6" stroke="#222" stroke-width="1.3"/><text x="1307.7" y="851.6" font-size="14.3" text-anchor="end" fill="#111" font-weight="normal" >96.5000</text><line x1="2104.3" y1="630.8" x2="2111.3" y2="630.8" stroke="#222" stroke-width="1.3"/><text x="2115.5" y="635.8" font-size="14.3" text-anchor="start" fill="#111" font-weight="normal" >70</text><line x1="2104.3" y1="662.1" x2="2111.3" y2="662.1" stroke="#222" stroke-width="1.3"/><text x="2115.5" y="667.1" font-size="14.3" text-anchor="start" fill="#111" font-weight="normal" >60</text><line x1="2104.3" y1="693.3" x2="2111.3" y2="693.3" stroke="#222" stroke-width="1.3"/><text x="2115.5" y="698.3" font-size="14.3" text-anchor="start" fill="#111" font-weight="normal" >50</text><line x1="2104.3" y1="724.6" x2="2111.3" y2="724.6" stroke="#222" stroke-width="1.3"/><text x="2115.5" y="729.6" font-size="14.3" text-anchor="start" fill="#111" font-weight="normal" >40</text><line x1="2104.3" y1="755.8" x2="2111.3" y2="755.8" stroke="#222" stroke-width="1.3"/><text x="2115.5" y="760.8" font-size="14.3" text-anchor="start" fill="#111" font-weight="normal" >30</text><line x1="2104.3" y1="787.1" x2="2111.3" y2="787.1" stroke="#222" stroke-width="1.3"/><text x="2115.5" y="792.1" font-size="14.3" text-anchor="start" fill="#111" font-weight="normal" >20</text><line x1="2104.3" y1="818.4" x2="2111.3" y2="818.4" stroke="#222" stroke-width="1.3"/><text x="2115.5" y="823.4" font-size="14.3" text-anchor="start" fill="#111" font-weight="normal" >10</text><line x1="2104.3" y1="849.6" x2="2111.3" y2="849.6" stroke="#222" stroke-width="1.3"/><text x="2115.5" y="854.6" font-size="14.3" text-anchor="start" fill="#111" font-weight="normal" >0</text><line x1="1319.8" y1="849.6" x2="1319.8" y2="857.6" stroke="#222" stroke-width="1.3"/><line x1="1351" y1="849.6" x2="1351" y2="857.6" stroke="#222" stroke-width="1.3"/><line x1="1411.9" y1="849.6" x2="1411.9" y2="857.6" stroke="#222" stroke-width="1.3"/><line x1="1471.6" y1="849.6" x2="1471.6" y2="857.6" stroke="#222" stroke-width="1.3"/><line x1="1532.5" y1="849.6" x2="1532.5" y2="857.6" stroke="#222" stroke-width="1.3"/><line x1="1594.9" y1="849.6" x2="1594.9" y2="857.6" stroke="#222" stroke-width="1.3"/><line x1="1650.4" y1="849.6" x2="1650.4" y2="857.6" stroke="#222" stroke-width="1.3"/><line x1="1711.7" y1="849.6" x2="1711.7" y2="857.6" stroke="#222" stroke-width="1.3"/><line x1="1771.4" y1="849.6" x2="1771.4" y2="857.6" stroke="#222" stroke-width="1.3"/><line x1="1832.3" y1="849.6" x2="1832.3" y2="857.6" stroke="#222" stroke-width="1.3"/><line x1="1892" y1="849.6" x2="1892" y2="857.6" stroke="#222" stroke-width="1.3"/><line x1="1954" y1="849.6" x2="1954" y2="857.6" stroke="#222" stroke-width="1.3"/><line x1="2015.7" y1="849.6" x2="2015.7" y2="857.6" stroke="#222" stroke-width="1.3"/><line x1="2075" y1="849.6" x2="2075" y2="857.6" stroke="#222" stroke-width="1.3"/><line x1="2104.3" y1="849.6" x2="2104.3" y2="857.6" stroke="#222" stroke-width="1.3"/><text x="1351.0" y="874.4" font-size="14.2" text-anchor="middle" fill="#111" font-weight="normal" >2017-10</text><text x="1471.6" y="874.4" font-size="14.2" text-anchor="middle" fill="#111" font-weight="normal" >2017-12</text><text x="1594.9" y="874.4" font-size="14.2" text-anchor="middle" fill="#111" font-weight="normal" >2018-02</text><text x="1711.7" y="874.4" font-size="14.2" text-anchor="middle" fill="#111" font-weight="normal" >2018-04</text><text x="1832.3" y="874.4" font-size="14.2" text-anchor="middle" fill="#111" font-weight="normal" >2018-06</text><text x="1954.0" y="874.4" font-size="14.2" text-anchor="middle" fill="#111" font-weight="normal" >2018-08</text><text x="2075.0" y="874.4" font-size="14.2" text-anchor="middle" fill="#111" font-weight="normal" >2018-10</text><text x="1336.5" y="633.0" font-size="13" text-anchor="middle" fill="#222" font-weight="normal" transform="rotate(-90 1332 629)">%</text><text x="2097.0" y="652.0" font-size="14" text-anchor="middle" fill="#111" font-weight="normal" transform="rotate(-90 2097 652)">Nb alerts</text><path d="M1351.0 836.5 C1361.2 823.6 1391.8 763.8 1411.9 759.3 C1432.0 754.8 1451.5 800.8 1471.6 809.6 C1491.7 818.4 1512.0 819.1 1532.5 812.3 C1553.0 805.5 1575.2 777.9 1594.9 768.9 C1614.6 759.9 1630.9 775.2 1650.4 758.3 C1669.9 741.4 1691.5 688.8 1711.7 667.7 C1731.9 646.6 1751.3 638.2 1771.4 631.6 C1791.5 625.0 1812.2 628.8 1832.3 628.2 C1852.4 627.6 1871.7 628.2 1892.0 628.2 C1912.3 628.2 1933.4 628.2 1954.0 628.2 C1974.6 628.2 1995.5 628.2 2015.7 628.2 C2035.9 628.2 2065.1 628.2 2075.0 628.2" fill="none" stroke="#3cb6e3" stroke-width="1.8"/><rect x="1531" y="890.6" width="14" height="14" fill="#2a7fad"/><text x="1553.8" y="904.7" font-size="17" text-anchor="start" fill="#222" font-weight="normal" >Availability</text><rect x="1646.2" y="890.6" width="14" height="14" fill="#3cb6e3"/><text x="1669.8" y="904.7" font-size="17" text-anchor="start" fill="#222" font-weight="normal" >Performance</text><rect x="1779.4" y="890.6" width="14" height="14" fill="#e5e7e9"/><text x="1803.0" y="904.7" font-size="17" text-anchor="start" fill="#222" font-weight="normal" >Alerts</text></svg>
<svg class="abs" style="left:0;top:0" width="3174" height="1564" font-family="Liberation Sans, sans-serif"><text x="1690.0" y="1037.0" font-size="21.8" text-anchor="middle" fill="#555" font-weight="bold" >24x7</text><path d="M1313.8 1095.8 L1339.9 1096.7 L1366.1 1087.3 L1392.2 1087.3 L1418.3 1092.0 L1444.5 1094.2 L1470.6 1095.6 L1496.7 1090.3 L1522.8 1094.7 L1549.0 1088.9 L1575.1 1093.1 L1601.2 1093.6 L1627.4 1088.9 L1653.5 1091.4 L1679.6 1095.3 L1705.8 1092.8 L1731.9 1090.3 L1758.0 1088.9 L1784.1 1088.9 L1810.3 1100.8 L1836.4 1098.3 L1862.5 1092.0 L1888.7 1086.2 L1914.8 1094.7 L1940.9 1090.9 L1967.0 1089.5 L1993.2 1084.5 L2019.3 1088.9 L2045.4 1091.4 L2071.6 1084.0 L2097.7 1096.1 L2097.7 1132.5 L2071.6 1126.4 L2045.4 1133.1 L2019.3 1128.9 L1993.2 1125.6 L1967.0 1132.0 L1940.9 1130.0 L1914.8 1134.2 L1888.7 1124.5 L1862.5 1133.1 L1836.4 1136.6 L1810.3 1139.7 L1784.1 1129.5 L1758.0 1128.7 L1731.9 1128.9 L1705.8 1130.9 L1679.6 1133.1 L1653.5 1131.7 L1627.4 1129.8 L1601.2 1131.1 L1575.1 1132.0 L1549.0 1130.9 L1522.8 1133.1 L1496.7 1128.4 L1470.6 1135.0 L1444.5 1133.6 L1418.3 1132.0 L1392.2 1127.0 L1366.1 1125.3 L1339.9 1136.4 L1313.8 1133.9 Z" fill="#d3e5e4"/><path d="M1313.8 1133.9 L1339.9 1136.4 L1366.1 1125.3 L1392.2 1127.0 L1418.3 1132.0 L1444.5 1133.6 L1470.6 1135.0 L1496.7 1128.4 L1522.8 1133.1 L1549.0 1130.9 L1575.1 1132.0 L1601.2 1131.1 L1627.4 1129.8 L1653.5 1131.7 L1679.6 1133.1 L1705.8 1130.9 L1731.9 1128.9 L1758.0 1128.7 L1784.1 1129.5 L1810.3 1139.7 L1836.4 1136.6 L1862.5 1133.1 L1888.7 1124.5 L1914.8 1134.2 L1940.9 1130.0 L1967.0 1132.0 L1993.2 1125.6 L2019.3 1128.9 L2045.4 1133.1 L2071.6 1126.4 L2097.7 1132.5 L2097.7 1169.7 L2071.6 1169.2 L2045.4 1170.3 L2019.3 1169.2 L1993.2 1163.7 L1967.0 1169.7 L1940.9 1171.7 L1914.8 1173.3 L1888.7 1162.8 L1862.5 1170.3 L1836.4 1175.8 L1810.3 1177.5 L1784.1 1170.6 L1758.0 1168.9 L1731.9 1165.9 L1705.8 1171.4 L1679.6 1172.2 L1653.5 1170.3 L1627.4 1168.1 L1601.2 1169.7 L1575.1 1168.4 L1549.0 1169.5 L1522.8 1169.5 L1496.7 1164.8 L1470.6 1173.9 L1444.5 1173.0 L1418.3 1168.9 L1392.2 1166.4 L1366.1 1161.5 L1339.9 1174.1 L1313.8 1173.6 Z" fill="#e7f0d5"/><path d="M1313.8 1173.6 L1339.9 1174.1 L1366.1 1161.5 L1392.2 1166.4 L1418.3 1168.9 L1444.5 1173.0 L1470.6 1173.9 L1496.7 1164.8 L1522.8 1169.5 L1549.0 1169.5 L1575.1 1168.4 L1601.2 1169.7 L1627.4 1168.1 L1653.5 1170.3 L1679.6 1172.2 L1705.8 1171.4 L1731.9 1165.9 L1758.0 1168.9 L1784.1 1170.6 L1810.3 1177.5 L1836.4 1175.8 L1862.5 1170.3 L1888.7 1162.8 L1914.8 1173.3 L1940.9 1171.7 L1967.0 1169.7 L1993.2 1163.7 L2019.3 1169.2 L2045.4 1170.3 L2071.6 1169.2 L2097.7 1169.7 L2097.7 1208.3 L2071.6 1209.4 L2045.4 1208.9 L2019.3 1209.2 L1993.2 1202.5 L1967.0 1209.4 L1940.9 1210.5 L1914.8 1212.5 L1888.7 1203.6 L1862.5 1211.9 L1836.4 1211.9 L1810.3 1215.2 L1784.1 1208.3 L1758.0 1208.1 L1731.9 1203.1 L1705.8 1208.6 L1679.6 1208.9 L1653.5 1208.9 L1627.4 1205.0 L1601.2 1206.1 L1575.1 1208.1 L1549.0 1207.5 L1522.8 1208.6 L1496.7 1202.5 L1470.6 1211.4 L1444.5 1210.0 L1418.3 1207.2 L1392.2 1205.3 L1366.1 1202.5 L1339.9 1211.1 L1313.8 1212.2 Z" fill="#dcf4fc"/><path d="M1313.8 1212.2 L1339.9 1211.1 L1366.1 1202.5 L1392.2 1205.3 L1418.3 1207.2 L1444.5 1210.0 L1470.6 1211.4 L1496.7 1202.5 L1522.8 1208.6 L1549.0 1207.5 L1575.1 1208.1 L1601.2 1206.1 L1627.4 1205.0 L1653.5 1208.9 L1679.6 1208.9 L1705.8 1208.6 L1731.9 1203.1 L1758.0 1208.1 L1784.1 1208.3 L1810.3 1215.2 L1836.4 1211.9 L1862.5 1211.9 L1888.7 1203.6 L1914.8 1212.5 L1940.9 1210.5 L1967.0 1209.4 L1993.2 1202.5 L2019.3 1209.2 L2045.4 1208.9 L2071.6 1209.4 L2097.7 1208.3 L2097.7 1248.3 L2071.6 1247.8 L2045.4 1246.1 L2019.3 1248.0 L1993.2 1241.7 L1967.0 1246.9 L1940.9 1248.6 L1914.8 1250.2 L1888.7 1242.8 L1862.5 1251.1 L1836.4 1249.1 L1810.3 1251.1 L1784.1 1249.1 L1758.0 1243.9 L1731.9 1240.6 L1705.8 1246.9 L1679.6 1246.4 L1653.5 1246.1 L1627.4 1243.1 L1601.2 1247.5 L1575.1 1246.4 L1549.0 1246.1 L1522.8 1247.5 L1496.7 1239.2 L1470.6 1250.5 L1444.5 1248.9 L1418.3 1246.7 L1392.2 1246.7 L1366.1 1245.6 L1339.9 1248.3 L1313.8 1250.0 Z" fill="#ecdfd8"/><path d="M1313.8 1250.0 L1339.9 1248.3 L1366.1 1245.6 L1392.2 1246.7 L1418.3 1246.7 L1444.5 1248.9 L1470.6 1250.5 L1496.7 1239.2 L1522.8 1247.5 L1549.0 1246.1 L1575.1 1246.4 L1601.2 1247.5 L1627.4 1243.1 L1653.5 1246.1 L1679.6 1246.4 L1705.8 1246.9 L1731.9 1240.6 L1758.0 1243.9 L1784.1 1249.1 L1810.3 1251.1 L1836.4 1249.1 L1862.5 1251.1 L1888.7 1242.8 L1914.8 1250.2 L1940.9 1248.6 L1967.0 1246.9 L1993.2 1241.7 L2019.3 1248.0 L2045.4 1246.1 L2071.6 1247.8 L2097.7 1248.3 L2097.7 1285.0 L2071.6 1285.3 L2045.4 1283.3 L2019.3 1284.4 L1993.2 1282.2 L1967.0 1286.1 L1940.9 1286.9 L1914.8 1287.2 L1888.7 1281.1 L1862.5 1288.3 L1836.4 1287.5 L1810.3 1287.5 L1784.1 1288.6 L1758.0 1283.3 L1731.9 1281.1 L1705.8 1284.2 L1679.6 1285.0 L1653.5 1285.8 L1627.4 1282.2 L1601.2 1283.6 L1575.1 1282.2 L1549.0 1284.2 L1522.8 1287.2 L1496.7 1278.9 L1470.6 1286.9 L1444.5 1290.5 L1418.3 1286.4 L1392.2 1285.3 L1366.1 1283.3 L1339.9 1287.5 L1313.8 1288.3 Z" fill="#d5e0d4"/><path d="M1313.8 1288.3 L1339.9 1287.5 L1366.1 1283.3 L1392.2 1285.3 L1418.3 1286.4 L1444.5 1290.5 L1470.6 1286.9 L1496.7 1278.9 L1522.8 1287.2 L1549.0 1284.2 L1575.1 1282.2 L1601.2 1283.6 L1627.4 1282.2 L1653.5 1285.8 L1679.6 1285.0 L1705.8 1284.2 L1731.9 1281.1 L1758.0 1283.3 L1784.1 1288.6 L1810.3 1287.5 L1836.4 1287.5 L1862.5 1288.3 L1888.7 1281.1 L1914.8 1287.2 L1940.9 1286.9 L1967.0 1286.1 L1993.2 1282.2 L2019.3 1284.4 L2045.4 1283.3 L2071.6 1285.3 L2097.7 1285.0 L2097.7 1325.0 L2071.6 1324.1 L2045.4 1324.4 L2019.3 1321.1 L1993.2 1320.5 L1967.0 1325.0 L1940.9 1327.2 L1914.8 1325.0 L1888.7 1319.4 L1862.5 1326.3 L1836.4 1325.2 L1810.3 1325.5 L1784.1 1325.5 L1758.0 1322.5 L1731.9 1320.8 L1705.8 1321.1 L1679.6 1325.2 L1653.5 1323.6 L1627.4 1321.1 L1601.2 1323.0 L1575.1 1321.9 L1549.0 1320.5 L1522.8 1326.3 L1496.7 1319.4 L1470.6 1324.7 L1444.5 1327.4 L1418.3 1323.9 L1392.2 1323.9 L1366.1 1323.3 L1339.9 1325.5 L1313.8 1324.7 Z" fill="#e4d6ea"/><path d="M1313.8 1324.7 L1339.9 1325.5 L1366.1 1323.3 L1392.2 1323.9 L1418.3 1323.9 L1444.5 1327.4 L1470.6 1324.7 L1496.7 1319.4 L1522.8 1326.3 L1549.0 1320.5 L1575.1 1321.9 L1601.2 1323.0 L1627.4 1321.1 L1653.5 1323.6 L1679.6 1325.2 L1705.8 1321.1 L1731.9 1320.8 L1758.0 1322.5 L1784.1 1325.5 L1810.3 1325.5 L1836.4 1325.2 L1862.5 1326.3 L1888.7 1319.4 L1914.8 1325.0 L1940.9 1327.2 L1967.0 1325.0 L1993.2 1320.5 L2019.3 1321.1 L2045.4 1324.4 L2071.6 1324.1 L2097.7 1325.0 L2097.7 1362.7 L2071.6 1363.0 L2045.4 1361.6 L2019.3 1361.6 L1993.2 1361.1 L1967.0 1362.5 L1940.9 1364.1 L1914.8 1362.5 L1888.7 1357.5 L1862.5 1364.1 L1836.4 1363.0 L1810.3 1362.2 L1784.1 1361.9 L1758.0 1359.7 L1731.9 1359.1 L1705.8 1361.6 L1679.6 1361.6 L1653.5 1362.7 L1627.4 1359.4 L1601.2 1363.0 L1575.1 1360.0 L1549.0 1362.2 L1522.8 1363.0 L1496.7 1359.7 L1470.6 1363.3 L1444.5 1363.8 L1418.3 1361.4 L1392.2 1362.7 L1366.1 1362.2 L1339.9 1363.8 L1313.8 1363.8 Z" fill="#d3ebe8"/><path d="M1313.8 1363.8 L1339.9 1363.8 L1366.1 1362.2 L1392.2 1362.7 L1418.3 1361.4 L1444.5 1363.8 L1470.6 1363.3 L1496.7 1359.7 L1522.8 1363.0 L1549.0 1362.2 L1575.1 1360.0 L1601.2 1363.0 L1627.4 1359.4 L1653.5 1362.7 L1679.6 1361.6 L1705.8 1361.6 L1731.9 1359.1 L1758.0 1359.7 L1784.1 1361.9 L1810.3 1362.2 L1836.4 1363.0 L1862.5 1364.1 L1888.7 1357.5 L1914.8 1362.5 L1940.9 1364.1 L1967.0 1362.5 L1993.2 1361.1 L2019.3 1361.6 L2045.4 1361.6 L2071.6 1363.0 L2097.7 1362.7 L2097.7 1400.0 L2071.6 1400.0 L2045.4 1400.0 L2019.3 1400.0 L1993.2 1400.0 L1967.0 1400.0 L1940.9 1400.0 L1914.8 1400.0 L1888.7 1400.0 L1862.5 1400.0 L1836.4 1400.0 L1810.3 1400.0 L1784.1 1400.0 L1758.0 1400.0 L1731.9 1400.0 L1705.8 1400.0 L1679.6 1400.0 L1653.5 1400.0 L1627.4 1400.0 L1601.2 1400.0 L1575.1 1400.0 L1549.0 1400.0 L1522.8 1400.0 L1496.7 1400.0 L1470.6 1400.0 L1444.5 1400.0 L1418.3 1400.0 L1392.2 1400.0 L1366.1 1400.0 L1339.9 1400.0 L1313.8 1400.0 Z" fill="#fdebd4"/><path d="M1313.8 1095.8 L1339.9 1096.7 L1366.1 1087.3 L1392.2 1087.3 L1418.3 1092.0 L1444.5 1094.2 L1470.6 1095.6 L1496.7 1090.3 L1522.8 1094.7 L1549.0 1088.9 L1575.1 1093.1 L1601.2 1093.6 L1627.4 1088.9 L1653.5 1091.4 L1679.6 1095.3 L1705.8 1092.8 L1731.9 1090.3 L1758.0 1088.9 L1784.1 1088.9 L1810.3 1100.8 L1836.4 1098.3 L1862.5 1092.0 L1888.7 1086.2 L1914.8 1094.7 L1940.9 1090.9 L1967.0 1089.5 L1993.2 1084.5 L2019.3 1088.9 L2045.4 1091.4 L2071.6 1084.0 L2097.7 1096.1" fill="none" stroke="#2a7f78" stroke-width="1.6"/><circle cx="1313.8" cy="1095.8" r="3.0" fill="#2a7f78"/><circle cx="1339.9" cy="1096.7" r="3.0" fill="#2a7f78"/><circle cx="1366.1" cy="1087.3" r="3.0" fill="#2a7f78"/><circle cx="1392.2" cy="1087.3" r="3.0" fill="#2a7f78"/><circle cx="1418.3" cy="1092.0" r="3.0" fill="#2a7f78"/><circle cx="1444.5" cy="1094.2" r="3.0" fill="#2a7f78"/><circle cx="1470.6" cy="1095.6" r="3.0" fill="#2a7f78"/><circle cx="1496.7" cy="1090.3" r="3.0" fill="#2a7f78"/><circle cx="1522.8" cy="1094.7" r="3.0" fill="#2a7f78"/><circle cx="1549.0" cy="1088.9" r="3.0" fill="#2a7f78"/><circle cx="1575.1" cy="1093.1" r="3.0" fill="#2a7f78"/><circle cx="1601.2" cy="1093.6" r="3.0" fill="#2a7f78"/><circle cx="1627.4" cy="1088.9" r="3.0" fill="#2a7f78"/><circle cx="1653.5" cy="1091.4" r="3.0" fill="#2a7f78"/><circle cx="1679.6" cy="1095.3" r="3.0" fill="#2a7f78"/><circle cx="1705.8" cy="1092.8" r="3.0" fill="#2a7f78"/><circle cx="1731.9" cy="1090.3" r="3.0" fill="#2a7f78"/><circle cx="1758.0" cy="1088.9" r="3.0" fill="#2a7f78"/><circle cx="1784.1" cy="1088.9" r="3.0" fill="#2a7f78"/><circle cx="1810.3" cy="1100.8" r="3.0" fill="#2a7f78"/><circle cx="1836.4" cy="1098.3" r="3.0" fill="#2a7f78"/><circle cx="1862.5" cy="1092.0" r="3.0" fill="#2a7f78"/><circle cx="1888.7" cy="1086.2" r="3.0" fill="#2a7f78"/><circle cx="1914.8" cy="1094.7" r="3.0" fill="#2a7f78"/><circle cx="1940.9" cy="1090.9" r="3.0" fill="#2a7f78"/><circle cx="1967.0" cy="1089.5" r="3.0" fill="#2a7f78"/><circle cx="1993.2" cy="1084.5" r="3.0" fill="#2a7f78"/><circle cx="2019.3" cy="1088.9" r="3.0" fill="#2a7f78"/><circle cx="2045.4" cy="1091.4" r="3.0" fill="#2a7f78"/><circle cx="2071.6" cy="1084.0" r="3.0" fill="#2a7f78"/><circle cx="2097.7" cy="1096.1" r="3.0" fill="#2a7f78"/><path d="M1313.8 1133.9 L1339.9 1136.4 L1366.1 1125.3 L1392.2 1127.0 L1418.3 1132.0 L1444.5 1133.6 L1470.6 1135.0 L1496.7 1128.4 L1522.8 1133.1 L1549.0 1130.9 L1575.1 1132.0 L1601.2 1131.1 L1627.4 1129.8 L1653.5 1131.7 L1679.6 1133.1 L1705.8 1130.9 L1731.9 1128.9 L1758.0 1128.7 L1784.1 1129.5 L1810.3 1139.7 L1836.4 1136.6 L1862.5 1133.1 L1888.7 1124.5 L1914.8 1134.2 L1940.9 1130.0 L1967.0 1132.0 L1993.2 1125.6 L2019.3 1128.9 L2045.4 1133.1 L2071.6 1126.4 L2097.7 1132.5" fill="none" stroke="#8bc43f" stroke-width="1.6"/><circle cx="1313.8" cy="1133.9" r="3.0" fill="#8bc43f"/><circle cx="1339.9" cy="1136.4" r="3.0" fill="#8bc43f"/><circle cx="1366.1" cy="1125.3" r="3.0" fill="#8bc43f"/><circle cx="1392.2" cy="1127.0" r="3.0" fill="#8bc43f"/><circle cx="1418.3" cy="1132.0" r="3.0" fill="#8bc43f"/><circle cx="1444.5" cy="1133.6" r="3.0" fill="#8bc43f"/><circle cx="1470.6" cy="1135.0" r="3.0" fill="#8bc43f"/><circle cx="1496.7" cy="1128.4" r="3.0" fill="#8bc43f"/><circle cx="1522.8" cy="1133.1" r="3.0" fill="#8bc43f"/><circle cx="1549.0" cy="1130.9" r="3.0" fill="#8bc43f"/><circle cx="1575.1" cy="1132.0" r="3.0" fill="#8bc43f"/><circle cx="1601.2" cy="1131.1" r="3.0" fill="#8bc43f"/><circle cx="1627.4" cy="1129.8" r="3.0" fill="#8bc43f"/><circle cx="1653.5" cy="1131.7" r="3.0" fill="#8bc43f"/><circle cx="1679.6" cy="1133.1" r="3.0" fill="#8bc43f"/><circle cx="1705.8" cy="1130.9" r="3.0" fill="#8bc43f"/><circle cx="1731.9" cy="1128.9" r="3.0" fill="#8bc43f"/><circle cx="1758.0" cy="1128.7" r="3.0" fill="#8bc43f"/><circle cx="1784.1" cy="1129.5" r="3.0" fill="#8bc43f"/><circle cx="1810.3" cy="1139.7" r="3.0" fill="#8bc43f"/><circle cx="1836.4" cy="1136.6" r="3.0" fill="#8bc43f"/><circle cx="1862.5" cy="1133.1" r="3.0" fill="#8bc43f"/><circle cx="1888.7" cy="1124.5" r="3.0" fill="#8bc43f"/><circle cx="1914.8" cy="1134.2" r="3.0" fill="#8bc43f"/><circle cx="1940.9" cy="1130.0" r="3.0" fill="#8bc43f"/><circle cx="1967.0" cy="1132.0" r="3.0" fill="#8bc43f"/><circle cx="1993.2" cy="1125.6" r="3.0" fill="#8bc43f"/><circle cx="2019.3" cy="1128.9" r="3.0" fill="#8bc43f"/><circle cx="2045.4" cy="1133.1" r="3.0" fill="#8bc43f"/><circle cx="2071.6" cy="1126.4" r="3.0" fill="#8bc43f"/><circle cx="2097.7" cy="1132.5" r="3.0" fill="#8bc43f"/><path d="M1313.8 1173.6 L1339.9 1174.1 L1366.1 1161.5 L1392.2 1166.4 L1418.3 1168.9 L1444.5 1173.0 L1470.6 1173.9 L1496.7 1164.8 L1522.8 1169.5 L1549.0 1169.5 L1575.1 1168.4 L1601.2 1169.7 L1627.4 1168.1 L1653.5 1170.3 L1679.6 1172.2 L1705.8 1171.4 L1731.9 1165.9 L1758.0 1168.9 L1784.1 1170.6 L1810.3 1177.5 L1836.4 1175.8 L1862.5 1170.3 L1888.7 1162.8 L1914.8 1173.3 L1940.9 1171.7 L1967.0 1169.7 L1993.2 1163.7 L2019.3 1169.2 L2045.4 1170.3 L2071.6 1169.2 L2097.7 1169.7" fill="none" stroke="#5ac8f7" stroke-width="1.6"/><circle cx="1313.8" cy="1173.6" r="3.0" fill="#5ac8f7"/><circle cx="1339.9" cy="1174.1" r="3.0" fill="#5ac8f7"/><circle cx="1366.1" cy="1161.5" r="3.0" fill="#5ac8f7"/><circle cx="1392.2" cy="1166.4" r="3.0" fill="#5ac8f7"/><circle cx="1418.3" cy="1168.9" r="3.0" fill="#5ac8f7"/><circle cx="1444.5" cy="1173.0" r="3.0" fill="#5ac8f7"/><circle cx="1470.6" cy="1173.9" r="3.0" fill="#5ac8f7"/><circle cx="1496.7" cy="1164.8" r="3.0" fill="#5ac8f7"/><circle cx="1522.8" cy="1169.5" r="3.0" fill="#5ac8f7"/><circle cx="1549.0" cy="1169.5" r="3.0" fill="#5ac8f7"/><circle cx="1575.1" cy="1168.4" r="3.0" fill="#5ac8f7"/><circle cx="1601.2" cy="1169.7" r="3.0" fill="#5ac8f7"/><circle cx="1627.4" cy="1168.1" r="3.0" fill="#5ac8f7"/><circle cx="1653.5" cy="1170.3" r="3.0" fill="#5ac8f7"/><circle cx="1679.6" cy="1172.2" r="3.0" fill="#5ac8f7"/><circle cx="1705.8" cy="1171.4" r="3.0" fill="#5ac8f7"/><circle cx="1731.9" cy="1165.9" r="3.0" fill="#5ac8f7"/><circle cx="1758.0" cy="1168.9" r="3.0" fill="#5ac8f7"/><circle cx="1784.1" cy="1170.6" r="3.0" fill="#5ac8f7"/><circle cx="1810.3" cy="1177.5" r="3.0" fill="#5ac8f7"/><circle cx="1836.4" cy="1175.8" r="3.0" fill="#5ac8f7"/><circle cx="1862.5" cy="1170.3" r="3.0" fill="#5ac8f7"/><circle cx="1888.7" cy="1162.8" r="3.0" fill="#5ac8f7"/><circle cx="1914.8" cy="1173.3" r="3.0" fill="#5ac8f7"/><circle cx="1940.9" cy="1171.7" r="3.0" fill="#5ac8f7"/><circle cx="1967.0" cy="1169.7" r="3.0" fill="#5ac8f7"/><circle cx="1993.2" cy="1163.7" r="3.0" fill="#5ac8f7"/><circle cx="2019.3" cy="1169.2" r="3.0" fill="#5ac8f7"/><circle cx="2045.4" cy="1170.3" r="3.0" fill="#5ac8f7"/><circle cx="2071.6" cy="1169.2" r="3.0" fill="#5ac8f7"/><circle cx="2097.7" cy="1169.7" r="3.0" fill="#5ac8f7"/><path d="M1313.8 1212.2 L1339.9 1211.1 L1366.1 1202.5 L1392.2 1205.3 L1418.3 1207.2 L1444.5 1210.0 L1470.6 1211.4 L1496.7 1202.5 L1522.8 1208.6 L1549.0 1207.5 L1575.1 1208.1 L1601.2 1206.1 L1627.4 1205.0 L1653.5 1208.9 L1679.6 1208.9 L1705.8 1208.6 L1731.9 1203.1 L1758.0 1208.1 L1784.1 1208.3 L1810.3 1215.2 L1836.4 1211.9 L1862.5 1211.9 L1888.7 1203.6 L1914.8 1212.5 L1940.9 1210.5 L1967.0 1209.4 L1993.2 1202.5 L2019.3 1209.2 L2045.4 1208.9 L2071.6 1209.4 L2097.7 1208.3" fill="none" stroke="#a4583d" stroke-width="1.6"/><circle cx="1313.8" cy="1212.2" r="3.0" fill="#a4583d"/><circle cx="1339.9" cy="1211.1" r="3.0" fill="#a4583d"/><circle cx="1366.1" cy="1202.5" r="3.0" fill="#a4583d"/><circle cx="1392.2" cy="1205.3" r="3.0" fill="#a4583d"/><circle cx="1418.3" cy="1207.2" r="3.0" fill="#a4583d"/><circle cx="1444.5" cy="1210.0" r="3.0" fill="#a4583d"/><circle cx="1470.6" cy="1211.4" r="3.0" fill="#a4583d"/><circle cx="1496.7" cy="1202.5" r="3.0" fill="#a4583d"/><circle cx="1522.8" cy="1208.6" r="3.0" fill="#a4583d"/><circle cx="1549.0" cy="1207.5" r="3.0" fill="#a4583d"/><circle cx="1575.1" cy="1208.1" r="3.0" fill="#a4583d"/><circle cx="1601.2" cy="1206.1" r="3.0" fill="#a4583d"/><circle cx="1627.4" cy="1205.0" r="3.0" fill="#a4583d"/><circle cx="1653.5" cy="1208.9" r="3.0" fill="#a4583d"/><circle cx="1679.6" cy="1208.9" r="3.0" fill="#a4583d"/><circle cx="1705.8" cy="1208.6" r="3.0" fill="#a4583d"/><circle cx="1731.9" cy="1203.1" r="3.0" fill="#a4583d"/><circle cx="1758.0" cy="1208.1" r="3.0" fill="#a4583d"/><circle cx="1784.1" cy="1208.3" r="3.0" fill="#a4583d"/><circle cx="1810.3" cy="1215.2" r="3.0" fill="#a4583d"/><circle cx="1836.4" cy="1211.9" r="3.0" fill="#a4583d"/><circle cx="1862.5" cy="1211.9" r="3.0" fill="#a4583d"/><circle cx="1888.7" cy="1203.6" r="3.0" fill="#a4583d"/><circle cx="1914.8" cy="1212.5" r="3.0" fill="#a4583d"/><circle cx="1940.9" cy="1210.5" r="3.0" fill="#a4583d"/><circle cx="1967.0" cy="1209.4" r="3.0" fill="#a4583d"/><circle cx="1993.2" cy="1202.5" r="3.0" fill="#a4583d"/><circle cx="2019.3" cy="1209.2" r="3.0" fill="#a4583d"/><circle cx="2045.4" cy="1208.9" r="3.0" fill="#a4583d"/><circle cx="2071.6" cy="1209.4" r="3.0" fill="#a4583d"/><circle cx="2097.7" cy="1208.3" r="3.0" fill="#a4583d"/><path d="M1313.8 1250.0 L1339.9 1248.3 L1366.1 1245.6 L1392.2 1246.7 L1418.3 1246.7 L1444.5 1248.9 L1470.6 1250.5 L1496.7 1239.2 L1522.8 1247.5 L1549.0 1246.1 L1575.1 1246.4 L1601.2 1247.5 L1627.4 1243.1 L1653.5 1246.1 L1679.6 1246.4 L1705.8 1246.9 L1731.9 1240.6 L1758.0 1243.9 L1784.1 1249.1 L1810.3 1251.1 L1836.4 1249.1 L1862.5 1251.1 L1888.7 1242.8 L1914.8 1250.2 L1940.9 1248.6 L1967.0 1246.9 L1993.2 1241.7 L2019.3 1248.0 L2045.4 1246.1 L2071.6 1247.8 L2097.7 1248.3" fill="none" stroke="#2b6525" stroke-width="1.6"/><circle cx="1313.8" cy="1250.0" r="3.0" fill="#2b6525"/><circle cx="1339.9" cy="1248.3" r="3.0" fill="#2b6525"/><circle cx="1366.1" cy="1245.6" r="3.0" fill="#2b6525"/><circle cx="1392.2" cy="1246.7" r="3.0" fill="#2b6525"/><circle cx="1418.3" cy="1246.7" r="3.0" fill="#2b6525"/><circle cx="1444.5" cy="1248.9" r="3.0" fill="#2b6525"/><circle cx="1470.6" cy="1250.5" r="3.0" fill="#2b6525"/><circle cx="1496.7" cy="1239.2" r="3.0" fill="#2b6525"/><circle cx="1522.8" cy="1247.5" r="3.0" fill="#2b6525"/><circle cx="1549.0" cy="1246.1" r="3.0" fill="#2b6525"/><circle cx="1575.1" cy="1246.4" r="3.0" fill="#2b6525"/><circle cx="1601.2" cy="1247.5" r="3.0" fill="#2b6525"/><circle cx="1627.4" cy="1243.1" r="3.0" fill="#2b6525"/><circle cx="1653.5" cy="1246.1" r="3.0" fill="#2b6525"/><circle cx="1679.6" cy="1246.4" r="3.0" fill="#2b6525"/><circle cx="1705.8" cy="1246.9" r="3.0" fill="#2b6525"/><circle cx="1731.9" cy="1240.6" r="3.0" fill="#2b6525"/><circle cx="1758.0" cy="1243.9" r="3.0" fill="#2b6525"/><circle cx="1784.1" cy="1249.1" r="3.0" fill="#2b6525"/><circle cx="1810.3" cy="1251.1" r="3.0" fill="#2b6525"/><circle cx="1836.4" cy="1249.1" r="3.0" fill="#2b6525"/><circle cx="1862.5" cy="1251.1" r="3.0" fill="#2b6525"/><circle cx="1888.7" cy="1242.8" r="3.0" fill="#2b6525"/><circle cx="1914.8" cy="1250.2" r="3.0" fill="#2b6525"/><circle cx="1940.9" cy="1248.6" r="3.0" fill="#2b6525"/><circle cx="1967.0" cy="1246.9" r="3.0" fill="#2b6525"/><circle cx="1993.2" cy="1241.7" r="3.0" fill="#2b6525"/><circle cx="2019.3" cy="1248.0" r="3.0" fill="#2b6525"/><circle cx="2045.4" cy="1246.1" r="3.0" fill="#2b6525"/><circle cx="2071.6" cy="1247.8" r="3.0" fill="#2b6525"/><circle cx="2097.7" cy="1248.3" r="3.0" fill="#2b6525"/><path d="M1313.8 1288.3 L1339.9 1287.5 L1366.1 1283.3 L1392.2 1285.3 L1418.3 1286.4 L1444.5 1290.5 L1470.6 1286.9 L1496.7 1278.9 L1522.8 1287.2 L1549.0 1284.2 L1575.1 1282.2 L1601.2 1283.6 L1627.4 1282.2 L1653.5 1285.8 L1679.6 1285.0 L1705.8 1284.2 L1731.9 1281.1 L1758.0 1283.3 L1784.1 1288.6 L1810.3 1287.5 L1836.4 1287.5 L1862.5 1288.3 L1888.7 1281.1 L1914.8 1287.2 L1940.9 1286.9 L1967.0 1286.1 L1993.2 1282.2 L2019.3 1284.4 L2045.4 1283.3 L2071.6 1285.3 L2097.7 1285.0" fill="none" stroke="#8a3fab" stroke-width="1.6"/><circle cx="1313.8" cy="1288.3" r="3.0" fill="#8a3fab"/><circle cx="1339.9" cy="1287.5" r="3.0" fill="#8a3fab"/><circle cx="1366.1" cy="1283.3" r="3.0" fill="#8a3fab"/><circle cx="1392.2" cy="1285.3" r="3.0" fill="#8a3fab"/><circle cx="1418.3" cy="1286.4" r="3.0" fill="#8a3fab"/><circle cx="1444.5" cy="1290.5" r="3.0" fill="#8a3fab"/><circle cx="1470.6" cy="1286.9" r="3.0" fill="#8a3fab"/><circle cx="1496.7" cy="1278.9" r="3.0" fill="#8a3fab"/><circle cx="1522.8" cy="1287.2" r="3.0" fill="#8a3fab"/><circle cx="1549.0" cy="1284.2" r="3.0" fill="#8a3fab"/><circle cx="1575.1" cy="1282.2" r="3.0" fill="#8a3fab"/><circle cx="1601.2" cy="1283.6" r="3.0" fill="#8a3fab"/><circle cx="1627.4" cy="1282.2" r="3.0" fill="#8a3fab"/><circle cx="1653.5" cy="1285.8" r="3.0" fill="#8a3fab"/><circle cx="1679.6" cy="1285.0" r="3.0" fill="#8a3fab"/><circle cx="1705.8" cy="1284.2" r="3.0" fill="#8a3fab"/><circle cx="1731.9" cy="1281.1" r="3.0" fill="#8a3fab"/><circle cx="1758.0" cy="1283.3" r="3.0" fill="#8a3fab"/><circle cx="1784.1" cy="1288.6" r="3.0" fill="#8a3fab"/><circle cx="1810.3" cy="1287.5" r="3.0" fill="#8a3fab"/><circle cx="1836.4" cy="1287.5" r="3.0" fill="#8a3fab"/><circle cx="1862.5" cy="1288.3" r="3.0" fill="#8a3fab"/><circle cx="1888.7" cy="1281.1" r="3.0" fill="#8a3fab"/><circle cx="1914.8" cy="1287.2" r="3.0" fill="#8a3fab"/><circle cx="1940.9" cy="1286.9" r="3.0" fill="#8a3fab"/><circle cx="1967.0" cy="1286.1" r="3.0" fill="#8a3fab"/><circle cx="1993.2" cy="1282.2" r="3.0" fill="#8a3fab"/><circle cx="2019.3" cy="1284.4" r="3.0" fill="#8a3fab"/><circle cx="2045.4" cy="1283.3" r="3.0" fill="#8a3fab"/><circle cx="2071.6" cy="1285.3" r="3.0" fill="#8a3fab"/><circle cx="2097.7" cy="1285.0" r="3.0" fill="#8a3fab"/><path d="M1313.8 1324.7 L1339.9 1325.5 L1366.1 1323.3 L1392.2 1323.9 L1418.3 1323.9 L1444.5 1327.4 L1470.6 1324.7 L1496.7 1319.4 L1522.8 1326.3 L1549.0 1320.5 L1575.1 1321.9 L1601.2 1323.0 L1627.4 1321.1 L1653.5 1323.6 L1679.6 1325.2 L1705.8 1321.1 L1731.9 1320.8 L1758.0 1322.5 L1784.1 1325.5 L1810.3 1325.5 L1836.4 1325.2 L1862.5 1326.3 L1888.7 1319.4 L1914.8 1325.0 L1940.9 1327.2 L1967.0 1325.0 L1993.2 1320.5 L2019.3 1321.1 L2045.4 1324.4 L2071.6 1324.1 L2097.7 1325.0" fill="none" stroke="#2a9c98" stroke-width="1.6"/><circle cx="1313.8" cy="1324.7" r="3.0" fill="#2a9c98"/><circle cx="1339.9" cy="1325.5" r="3.0" fill="#2a9c98"/><circle cx="1366.1" cy="1323.3" r="3.0" fill="#2a9c98"/><circle cx="1392.2" cy="1323.9" r="3.0" fill="#2a9c98"/><circle cx="1418.3" cy="1323.9" r="3.0" fill="#2a9c98"/><circle cx="1444.5" cy="1327.4" r="3.0" fill="#2a9c98"/><circle cx="1470.6" cy="1324.7" r="3.0" fill="#2a9c98"/><circle cx="1496.7" cy="1319.4" r="3.0" fill="#2a9c98"/><circle cx="1522.8" cy="1326.3" r="3.0" fill="#2a9c98"/><circle cx="1549.0" cy="1320.5" r="3.0" fill="#2a9c98"/><circle cx="1575.1" cy="1321.9" r="3.0" fill="#2a9c98"/><circle cx="1601.2" cy="1323.0" r="3.0" fill="#2a9c98"/><circle cx="1627.4" cy="1321.1" r="3.0" fill="#2a9c98"/><circle cx="1653.5" cy="1323.6" r="3.0" fill="#2a9c98"/><circle cx="1679.6" cy="1325.2" r="3.0" fill="#2a9c98"/><circle cx="1705.8" cy="1321.1" r="3.0" fill="#2a9c98"/><circle cx="1731.9" cy="1320.8" r="3.0" fill="#2a9c98"/><circle cx="1758.0" cy="1322.5" r="3.0" fill="#2a9c98"/><circle cx="1784.1" cy="1325.5" r="3.0" fill="#2a9c98"/><circle cx="1810.3" cy="1325.5" r="3.0" fill="#2a9c98"/><circle cx="1836.4" cy="1325.2" r="3.0" fill="#2a9c98"/><circle cx="1862.5" cy="1326.3" r="3.0" fill="#2a9c98"/><circle cx="1888.7" cy="1319.4" r="3.0" fill="#2a9c98"/><circle cx="1914.8" cy="1325.0" r="3.0" fill="#2a9c98"/><circle cx="1940.9" cy="1327.2" r="3.0" fill="#2a9c98"/><circle cx="1967.0" cy="1325.0" r="3.0" fill="#2a9c98"/><circle cx="1993.2" cy="1320.5" r="3.0" fill="#2a9c98"/><circle cx="2019.3" cy="1321.1" r="3.0" fill="#2a9c98"/><circle cx="2045.4" cy="1324.4" r="3.0" fill="#2a9c98"/><circle cx="2071.6" cy="1324.1" r="3.0" fill="#2a9c98"/><circle cx="2097.7" cy="1325.0" r="3.0" fill="#2a9c98"/><path d="M1313.8 1363.8 L1339.9 1363.8 L1366.1 1362.2 L1392.2 1362.7 L1418.3 1361.4 L1444.5 1363.8 L1470.6 1363.3 L1496.7 1359.7 L1522.8 1363.0 L1549.0 1362.2 L1575.1 1360.0 L1601.2 1363.0 L1627.4 1359.4 L1653.5 1362.7 L1679.6 1361.6 L1705.8 1361.6 L1731.9 1359.1 L1758.0 1359.7 L1784.1 1361.9 L1810.3 1362.2 L1836.4 1363.0 L1862.5 1364.1 L1888.7 1357.5 L1914.8 1362.5 L1940.9 1364.1 L1967.0 1362.5 L1993.2 1361.1 L2019.3 1361.6 L2045.4 1361.6 L2071.6 1363.0 L2097.7 1362.7" fill="none" stroke="#f0a33f" stroke-width="1.6"/><circle cx="1313.8" cy="1363.8" r="3.0" fill="#f0a33f"/><circle cx="1339.9" cy="1363.8" r="3.0" fill="#f0a33f"/><circle cx="1366.1" cy="1362.2" r="3.0" fill="#f0a33f"/><circle cx="1392.2" cy="1362.7" r="3.0" fill="#f0a33f"/><circle cx="1418.3" cy="1361.4" r="3.0" fill="#f0a33f"/><circle cx="1444.5" cy="1363.8" r="3.0" fill="#f0a33f"/><circle cx="1470.6" cy="1363.3" r="3.0" fill="#f0a33f"/><circle cx="1496.7" cy="1359.7" r="3.0" fill="#f0a33f"/><circle cx="1522.8" cy="1363.0" r="3.0" fill="#f0a33f"/><circle cx="1549.0" cy="1362.2" r="3.0" fill="#f0a33f"/><circle cx="1575.1" cy="1360.0" r="3.0" fill="#f0a33f"/><circle cx="1601.2" cy="1363.0" r="3.0" fill="#f0a33f"/><circle cx="1627.4" cy="1359.4" r="3.0" fill="#f0a33f"/><circle cx="1653.5" cy="1362.7" r="3.0" fill="#f0a33f"/><circle cx="1679.6" cy="1361.6" r="3.0" fill="#f0a33f"/><circle cx="1705.8" cy="1361.6" r="3.0" fill="#f0a33f"/><circle cx="1731.9" cy="1359.1" r="3.0" fill="#f0a33f"/><circle cx="1758.0" cy="1359.7" r="3.0" fill="#f0a33f"/><circle cx="1784.1" cy="1361.9" r="3.0" fill="#f0a33f"/><circle cx="1810.3" cy="1362.2" r="3.0" fill="#f0a33f"/><circle cx="1836.4" cy="1363.0" r="3.0" fill="#f0a33f"/><circle cx="1862.5" cy="1364.1" r="3.0" fill="#f0a33f"/><circle cx="1888.7" cy="1357.5" r="3.0" fill="#f0a33f"/><circle cx="1914.8" cy="1362.5" r="3.0" fill="#f0a33f"/><circle cx="1940.9" cy="1364.1" r="3.0" fill="#f0a33f"/><circle cx="1967.0" cy="1362.5" r="3.0" fill="#f0a33f"/><circle cx="1993.2" cy="1361.1" r="3.0" fill="#f0a33f"/><circle cx="2019.3" cy="1361.6" r="3.0" fill="#f0a33f"/><circle cx="2045.4" cy="1361.6" r="3.0" fill="#f0a33f"/><circle cx="2071.6" cy="1363.0" r="3.0" fill="#f0a33f"/><circle cx="2097.7" cy="1362.7" r="3.0" fill="#f0a33f"/><path d="M1298.5 1052.5 H1305.5 V1400 H2104 V1408" fill="none" stroke="#222" stroke-width="1.5"/><line x1="1298.5" y1="1400.0" x2="1305.5" y2="1400.0" stroke="#222" stroke-width="1.3"/><text x="1293.5" y="1405.0" font-size="14.5" text-anchor="end" fill="#111" font-weight="normal" >0</text><line x1="1298.5" y1="1353.4" x2="1305.5" y2="1353.4" stroke="#222" stroke-width="1.3"/><text x="1293.5" y="1358.4" font-size="14.5" text-anchor="end" fill="#111" font-weight="normal" >200.0</text><line x1="1298.5" y1="1306.8" x2="1305.5" y2="1306.8" stroke="#222" stroke-width="1.3"/><text x="1293.5" y="1311.8" font-size="14.5" text-anchor="end" fill="#111" font-weight="normal" >400.0</text><line x1="1298.5" y1="1260.2" x2="1305.5" y2="1260.2" stroke="#222" stroke-width="1.3"/><text x="1293.5" y="1265.2" font-size="14.5" text-anchor="end" fill="#111" font-weight="normal" >600.0</text><line x1="1298.5" y1="1213.6" x2="1305.5" y2="1213.6" stroke="#222" stroke-width="1.3"/><text x="1293.5" y="1218.6" font-size="14.5" text-anchor="end" fill="#111" font-weight="normal" >800.0</text><line x1="1298.5" y1="1167.0" x2="1305.5" y2="1167.0" stroke="#222" stroke-width="1.3"/><text x="1293.5" y="1172.0" font-size="14.5" text-anchor="end" fill="#111" font-weight="normal" >1.000k</text><line x1="1298.5" y1="1120.4" x2="1305.5" y2="1120.4" stroke="#222" stroke-width="1.3"/><text x="1293.5" y="1125.4" font-size="14.5" text-anchor="end" fill="#111" font-weight="normal" >1.200k</text><line x1="1298.5" y1="1073.8" x2="1305.5" y2="1073.8" stroke="#222" stroke-width="1.3"/><text x="1293.5" y="1078.8" font-size="14.5" text-anchor="end" fill="#111" font-weight="normal" >1.400k</text><line x1="1305.5" y1="1400" x2="1305.5" y2="1408" stroke="#222" stroke-width="1.3"/><line x1="1313.8" y1="1400" x2="1313.8" y2="1408" stroke="#222" stroke-width="1.3"/><line x1="1339.9" y1="1400" x2="1339.9" y2="1408" stroke="#222" stroke-width="1.3"/><line x1="1366.1" y1="1400" x2="1366.1" y2="1408" stroke="#222" stroke-width="1.3"/><line x1="1392.2" y1="1400" x2="1392.2" y2="1408" stroke="#222" stroke-width="1.3"/><line x1="1418.3" y1="1400" x2="1418.3" y2="1408" stroke="#222" stroke-width="1.3"/><line x1="1444.5" y1="1400" x2="1444.5" y2="1408" stroke="#222" stroke-width="1.3"/><line x1="1470.6" y1="1400" x2="1470.6" y2="1408" stroke="#222" stroke-width="1.3"/><line x1="1496.7" y1="1400" x2="1496.7" y2="1408" stroke="#222" stroke-width="1.3"/><line x1="1522.8" y1="1400" x2="1522.8" y2="1408" stroke="#222" stroke-width="1.3"/><line x1="1549.0" y1="1400" x2="1549.0" y2="1408" stroke="#222" stroke-width="1.3"/><line x1="1575.1" y1="1400" x2="1575.1" y2="1408" stroke="#222" stroke-width="1.3"/><line x1="1601.2" y1="1400" x2="1601.2" y2="1408" stroke="#222" stroke-width="1.3"/><line x1="1627.4" y1="1400" x2="1627.4" y2="1408" stroke="#222" stroke-width="1.3"/><line x1="1653.5" y1="1400" x2="1653.5" y2="1408" stroke="#222" stroke-width="1.3"/><line x1="1679.6" y1="1400" x2="1679.6" y2="1408" stroke="#222" stroke-width="1.3"/><line x1="1705.8" y1="1400" x2="1705.8" y2="1408" stroke="#222" stroke-width="1.3"/><line x1="1731.9" y1="1400" x2="1731.9" y2="1408" stroke="#222" stroke-width="1.3"/><line x1="1758.0" y1="1400" x2="1758.0" y2="1408" stroke="#222" stroke-width="1.3"/><line x1="1784.1" y1="1400" x2="1784.1" y2="1408" stroke="#222" stroke-width="1.3"/><line x1="1810.3" y1="1400" x2="1810.3" y2="1408" stroke="#222" stroke-width="1.3"/><line x1="1836.4" y1="1400" x2="1836.4" y2="1408" stroke="#222" stroke-width="1.3"/><line x1="1862.5" y1="1400" x2="1862.5" y2="1408" stroke="#222" stroke-width="1.3"/><line x1="1888.7" y1="1400" x2="1888.7" y2="1408" stroke="#222" stroke-width="1.3"/><line x1="1914.8" y1="1400" x2="1914.8" y2="1408" stroke="#222" stroke-width="1.3"/><line x1="1940.9" y1="1400" x2="1940.9" y2="1408" stroke="#222" stroke-width="1.3"/><line x1="1967.0" y1="1400" x2="1967.0" y2="1408" stroke="#222" stroke-width="1.3"/><line x1="1993.2" y1="1400" x2="1993.2" y2="1408" stroke="#222" stroke-width="1.3"/><line x1="2019.3" y1="1400" x2="2019.3" y2="1408" stroke="#222" stroke-width="1.3"/><line x1="2045.4" y1="1400" x2="2045.4" y2="1408" stroke="#222" stroke-width="1.3"/><line x1="2071.6" y1="1400" x2="2071.6" y2="1408" stroke="#222" stroke-width="1.3"/><line x1="2097.7" y1="1400" x2="2097.7" y2="1408" stroke="#222" stroke-width="1.3"/><text x="1313.8" y="1422.6" font-size="14.1" text-anchor="middle" fill="#111" font-weight="normal" >2018-09-16</text><text x="1418.3" y="1422.6" font-size="14.1" text-anchor="middle" fill="#111" font-weight="normal" >2018-09-20</text><text x="1522.8" y="1422.6" font-size="14.1" text-anchor="middle" fill="#111" font-weight="normal" >2018-09-24</text><text x="1627.4" y="1422.6" font-size="14.1" text-anchor="middle" fill="#111" font-weight="normal" >2018-09-28</text><text x="1731.9" y="1422.6" font-size="14.1" text-anchor="middle" fill="#111" font-weight="normal" >2018-10-02</text><text x="1836.4" y="1422.6" font-size="14.1" text-anchor="middle" fill="#111" font-weight="normal" >2018-10-06</text><text x="1940.9" y="1422.6" font-size="14.1" text-anchor="middle" fill="#111" font-weight="normal" >2018-10-10</text><text x="2045.4" y="1422.6" font-size="14.1" text-anchor="middle" fill="#111" font-weight="normal" >2018-10-14</text></svg>
<svg class="abs" style="left:0;top:0" width="3174" height="1564" font-family="Liberation Sans, sans-serif"><rect x="2188.7" y="256.5" width="971.3" height="41.5" fill="#d3ebf5"/><rect x="2188.7" y="298.0" width="971.3" height="33.95" fill="#f6fbfd"/><rect x="2188.7" y="331.9" width="971.3" height="33.95" fill="#eef8fb"/><rect x="2188.7" y="365.9" width="971.3" height="33.95" fill="#f6fbfd"/><rect x="2188.7" y="399.9" width="971.3" height="33.95" fill="#eef8fb"/><text x="2195.3" y="283.0" font-size="16.2" text-anchor="start" fill="#505050" font-weight="normal" >Resources</text><text x="2647.0" y="283.0" font-size="16.2" text-anchor="middle" fill="#505050" font-weight="normal" >Est. saturation</text><text x="2854.0" y="283.0" font-size="16.2" text-anchor="middle" fill="#505050" font-weight="normal" >Evol. vs yesterday</text><text x="3063.6" y="283.0" font-size="16.2" text-anchor="middle" fill="#505050" font-weight="normal" >Current usage</text><text x="2192.6" y="320.0" font-size="16.8" text-anchor="start" fill="#505050" font-weight="normal" >mail-jupiter-frontend - disk-/</text><text x="2647.0" y="320.0" font-size="16" text-anchor="middle" fill="#505050" font-weight="normal" >29.3 days</text><text x="2872.0" y="320.0" font-size="16" text-anchor="end" fill="#505050" font-weight="normal" >-52.64%</text><path d="M2879 308.0 L2891 320.0 M2884 320.0 H2891 V313.0" fill="none" stroke="#444" stroke-width="1.8"/><rect x="2980.5" y="301.3" width="166.5" height="28" rx="3.5" fill="#fff" stroke="#6a6a6a" stroke-width="1.8"/><rect x="2983.7" y="304.5" width="30.6" height="21.4" rx="3.5" fill="#cfe985"/><text x="3089.7" y="321.5" font-size="15.5" text-anchor="middle" fill="#7ab03a" font-weight="normal" >19.15%</text><text x="2192.6" y="353.8" font-size="16.8" text-anchor="start" fill="#505050" font-weight="normal" >mail-earth-frontend - disk-/</text><text x="2647.0" y="353.8" font-size="16" text-anchor="middle" fill="#505050" font-weight="normal" >31.4 days</text><text x="2869.5" y="353.8" font-size="16" text-anchor="end" fill="#505050" font-weight="normal" >88.99%</text><path d="M2875.5 353.75 L2887.5 341.75 M2880.5 341.75 H2887.5 V348.75" fill="none" stroke="#444" stroke-width="1.8"/><rect x="2980.5" y="335.1" width="166.5" height="28" rx="3.5" fill="#fff" stroke="#6a6a6a" stroke-width="1.8"/><rect x="2983.7" y="338.2" width="115.1" height="21.4" rx="3.5" fill="#cfe985"/><text x="3089.7" y="355.2" font-size="15.5" text-anchor="middle" fill="#7ab03a" font-weight="normal" >71.91%</text><text x="2192.6" y="387.5" font-size="16.8" text-anchor="start" fill="#505050" font-weight="normal" >mail-neptune-frontend - disk-/</text><text x="2647.0" y="387.5" font-size="16" text-anchor="middle" fill="#505050" font-weight="normal" >44.2 days</text><text x="2869.5" y="387.5" font-size="16" text-anchor="end" fill="#505050" font-weight="normal" >81.65%</text><path d="M2875.5 387.5 L2887.5 375.5 M2880.5 375.5 H2887.5 V382.5" fill="none" stroke="#444" stroke-width="1.8"/><rect x="2980.5" y="368.8" width="166.5" height="28" rx="3.5" fill="#fff" stroke="#6a6a6a" stroke-width="1.8"/><rect x="2983.7" y="372.0" width="111.6" height="21.4" rx="3.5" fill="#cfe985"/><text x="3089.7" y="389.0" font-size="15.5" text-anchor="middle" fill="#7ab03a" font-weight="normal" >69.74%</text><text x="2192.6" y="421.2" font-size="16.8" text-anchor="start" fill="#505050" font-weight="normal" >mail-uranus-frontend - disk-/</text><text x="2647.0" y="421.2" font-size="16" text-anchor="middle" fill="#505050" font-weight="normal" >60.4 days</text><text x="2872.0" y="421.2" font-size="16" text-anchor="end" fill="#505050" font-weight="normal" >-32.37%</text><path d="M2879 409.25 L2891 421.25 M2884 421.25 H2891 V414.25" fill="none" stroke="#444" stroke-width="1.8"/><rect x="2980.5" y="402.6" width="166.5" height="28" rx="3.5" fill="#fff" stroke="#6a6a6a" stroke-width="1.8"/><rect x="2983.7" y="405.8" width="42.6" height="21.4" rx="3.5" fill="#cfe985"/><text x="3089.7" y="422.8" font-size="15.5" text-anchor="middle" fill="#7ab03a" font-weight="normal" >26.62%</text></svg>
<svg class="abs" style="left:0;top:0" width="3174" height="1564" font-family="Liberation Sans, sans-serif"><text x="2674" y="556" font-size="21" text-anchor="middle" fill="#555">Indicator : <tspan font-weight="bold">used</tspan> for service : <tspan font-weight="bold">disk-/usr</tspan> on <tspan font-weight="bold">mail-earth-frontend</tspan></text><text x="2674.7" y="583.3" font-size="20.3" text-anchor="middle" fill="#555">It will reach 79.00Go in <tspan font-weight="bold">+3 months (323 days - 2019-09-05 )</tspan></text><path d="M2266.9 595.4 H2274.9 V793.5" fill="none" stroke="#222" stroke-width="1.5"/><line x1="2266.5" y1="793.5" x2="3103.4" y2="793.5" stroke="#222" stroke-width="1.8"/><line x1="2266.5" y1="612.6" x2="2274.9" y2="612.6" stroke="#222" stroke-width="1.3"/><text x="2261.6" y="617.6" font-size="14.3" text-anchor="end" fill="#111" font-weight="normal" >55.88G</text><line x1="2266.5" y1="641.3" x2="2274.9" y2="641.3" stroke="#222" stroke-width="1.3"/><text x="2261.6" y="646.3" font-size="14.3" text-anchor="end" fill="#111" font-weight="normal" >46.57G</text><line x1="2266.5" y1="669.3" x2="2274.9" y2="669.3" stroke="#222" stroke-width="1.3"/><text x="2261.6" y="674.3" font-size="14.3" text-anchor="end" fill="#111" font-weight="normal" >37.25G</text><line x1="2266.5" y1="696.9" x2="2274.9" y2="696.9" stroke="#222" stroke-width="1.3"/><text x="2261.6" y="701.9" font-size="14.3" text-anchor="end" fill="#111" font-weight="normal" >27.94G</text><line x1="2266.5" y1="724.9" x2="2274.9" y2="724.9" stroke="#222" stroke-width="1.3"/><text x="2261.6" y="729.9" font-size="14.3" text-anchor="end" fill="#111" font-weight="normal" >18.63G</text><line x1="2266.5" y1="752.5" x2="2274.9" y2="752.5" stroke="#222" stroke-width="1.3"/><text x="2261.6" y="757.5" font-size="14.3" text-anchor="end" fill="#111" font-weight="normal" >9.31G</text><line x1="2266.5" y1="780.3" x2="2274.9" y2="780.3" stroke="#222" stroke-width="1.3"/><text x="2261.6" y="785.3" font-size="14.3" text-anchor="end" fill="#111" font-weight="normal" >0</text><line x1="2274.9" y1="793.5" x2="2274.9" y2="801.5" stroke="#222" stroke-width="1.2"/><line x1="2283.5" y1="793.5" x2="2283.5" y2="801.5" stroke="#222" stroke-width="1.2"/><line x1="2290.3" y1="793.5" x2="2290.3" y2="801.5" stroke="#222" stroke-width="1.2"/><line x1="2297.1" y1="793.5" x2="2297.1" y2="801.5" stroke="#222" stroke-width="1.2"/><line x1="2303.9" y1="793.5" x2="2303.9" y2="801.5" stroke="#222" stroke-width="1.2"/><line x1="2310.7" y1="793.5" x2="2310.7" y2="801.5" stroke="#222" stroke-width="1.2"/><line x1="2317.5" y1="793.5" x2="2317.5" y2="801.5" stroke="#222" stroke-width="1.2"/><line x1="2324.3" y1="793.5" x2="2324.3" y2="801.5" stroke="#222" stroke-width="1.2"/><line x1="2331.1" y1="793.5" x2="2331.1" y2="801.5" stroke="#222" stroke-width="1.2"/><line x1="2337.9" y1="793.5" x2="2337.9" y2="801.5" stroke="#222" stroke-width="1.2"/><line x1="2344.7" y1="793.5" x2="2344.7" y2="801.5" stroke="#222" stroke-width="1.2"/><line x1="2351.5" y1="793.5" x2="2351.5" y2="801.5" stroke="#222" stroke-width="1.2"/><line x1="2358.3" y1="793.5" x2="2358.3" y2="801.5" stroke="#222" stroke-width="1.2"/><line x1="2365.1" y1="793.5" x2="2365.1" y2="801.5" stroke="#222" stroke-width="1.2"/><line x1="2371.9" y1="793.5" x2="2371.9" y2="801.5" stroke="#222" stroke-width="1.2"/><line x1="2378.7" y1="793.5" x2="2378.7" y2="801.5" stroke="#222" stroke-width="1.2"/><line x1="2385.5" y1="793.5" x2="2385.5" y2="801.5" stroke="#222" stroke-width="1.2"/><line x1="2392.3" y1="793.5" x2="2392.3" y2="801.5" stroke="#222" stroke-width="1.2"/><line x1="2399.1" y1="793.5" x2="2399.1" y2="801.5" stroke="#222" stroke-width="1.2"/><line x1="2405.9" y1="793.5" x2="2405.9" y2="801.5" stroke="#222" stroke-width="1.2"/><line x1="2412.7" y1="793.5" x2="2412.7" y2="801.5" stroke="#222" stroke-width="1.2"/><line x1="2419.5" y1="793.5" x2="2419.5" y2="801.5" stroke="#222" stroke-width="1.2"/><line x1="2426.3" y1="793.5" x2="2426.3" y2="801.5" stroke="#222" stroke-width="1.2"/><line x1="2433.1" y1="793.5" x2="2433.1" y2="801.5" stroke="#222" stroke-width="1.2"/><line x1="2439.9" y1="793.5" x2="2439.9" y2="801.5" stroke="#222" stroke-width="1.2"/><line x1="2446.7" y1="793.5" x2="2446.7" y2="801.5" stroke="#222" stroke-width="1.2"/><line x1="2453.5" y1="793.5" x2="2453.5" y2="801.5" stroke="#222" stroke-width="1.2"/><line x1="2460.3" y1="793.5" x2="2460.3" y2="801.5" stroke="#222" stroke-width="1.2"/><line x1="2467.1" y1="793.5" x2="2467.1" y2="801.5" stroke="#222" stroke-width="1.2"/><line x1="2473.9" y1="793.5" x2="2473.9" y2="801.5" stroke="#222" stroke-width="1.2"/><line x1="2480.7" y1="793.5" x2="2480.7" y2="801.5" stroke="#222" stroke-width="1.2"/><line x1="2487.5" y1="793.5" x2="2487.5" y2="801.5" stroke="#222" stroke-width="1.2"/><line x1="2494.3" y1="793.5" x2="2494.3" y2="801.5" stroke="#222" stroke-width="1.2"/><line x1="2501.1" y1="793.5" x2="2501.1" y2="801.5" stroke="#222" stroke-width="1.2"/><line x1="2507.9" y1="793.5" x2="2507.9" y2="801.5" stroke="#222" stroke-width="1.2"/><line x1="2514.7" y1="793.5" x2="2514.7" y2="801.5" stroke="#222" stroke-width="1.2"/><line x1="2521.5" y1="793.5" x2="2521.5" y2="801.5" stroke="#222" stroke-width="1.2"/><line x1="2528.3" y1="793.5" x2="2528.3" y2="801.5" stroke="#222" stroke-width="1.2"/><line x1="2535.1" y1="793.5" x2="2535.1" y2="801.5" stroke="#222" stroke-width="1.2"/><line x1="2541.9" y1="793.5" x2="2541.9" y2="801.5" stroke="#222" stroke-width="1.2"/><line x1="2548.7" y1="793.5" x2="2548.7" y2="801.5" stroke="#222" stroke-width="1.2"/><line x1="2555.5" y1="793.5" x2="2555.5" y2="801.5" stroke="#222" stroke-width="1.2"/><line x1="2562.3" y1="793.5" x2="2562.3" y2="801.5" stroke="#222" stroke-width="1.2"/><line x1="2569.1" y1="793.5" x2="2569.1" y2="801.5" stroke="#222" stroke-width="1.2"/><line x1="2575.9" y1="793.5" x2="2575.9" y2="801.5" stroke="#222" stroke-width="1.2"/><line x1="2582.7" y1="793.5" x2="2582.7" y2="801.5" stroke="#222" stroke-width="1.2"/><line x1="2589.5" y1="793.5" x2="2589.5" y2="801.5" stroke="#222" stroke-width="1.2"/><line x1="2596.3" y1="793.5" x2="2596.3" y2="801.5" stroke="#222" stroke-width="1.2"/><line x1="2603.1" y1="793.5" x2="2603.1" y2="801.5" stroke="#222" stroke-width="1.2"/><line x1="2609.9" y1="793.5" x2="2609.9" y2="801.5" stroke="#222" stroke-width="1.2"/><line x1="2616.7" y1="793.5" x2="2616.7" y2="801.5" stroke="#222" stroke-width="1.2"/><line x1="2623.5" y1="793.5" x2="2623.5" y2="801.5" stroke="#222" stroke-width="1.2"/><line x1="2630.3" y1="793.5" x2="2630.3" y2="801.5" stroke="#222" stroke-width="1.2"/><line x1="2637.1" y1="793.5" x2="2637.1" y2="801.5" stroke="#222" stroke-width="1.2"/><line x1="2643.9" y1="793.5" x2="2643.9" y2="801.5" stroke="#222" stroke-width="1.2"/><line x1="2650.7" y1="793.5" x2="2650.7" y2="801.5" stroke="#222" stroke-width="1.2"/><line x1="2657.5" y1="793.5" x2="2657.5" y2="801.5" stroke="#222" stroke-width="1.2"/><line x1="2664.3" y1="793.5" x2="2664.3" y2="801.5" stroke="#222" stroke-width="1.2"/><line x1="2671.1" y1="793.5" x2="2671.1" y2="801.5" stroke="#222" stroke-width="1.2"/><line x1="2677.9" y1="793.5" x2="2677.9" y2="801.5" stroke="#222" stroke-width="1.2"/><line x1="2684.7" y1="793.5" x2="2684.7" y2="801.5" stroke="#222" stroke-width="1.2"/><line x1="2691.5" y1="793.5" x2="2691.5" y2="801.5" stroke="#222" stroke-width="1.2"/><line x1="2698.3" y1="793.5" x2="2698.3" y2="801.5" stroke="#222" stroke-width="1.2"/><line x1="2705.1" y1="793.5" x2="2705.1" y2="801.5" stroke="#222" stroke-width="1.2"/><line x1="2711.9" y1="793.5" x2="2711.9" y2="801.5" stroke="#222" stroke-width="1.2"/><line x1="2718.7" y1="793.5" x2="2718.7" y2="801.5" stroke="#222" stroke-width="1.2"/><line x1="2725.5" y1="793.5" x2="2725.5" y2="801.5" stroke="#222" stroke-width="1.2"/><line x1="2732.3" y1="793.5" x2="2732.3" y2="801.5" stroke="#222" stroke-width="1.2"/><line x1="2739.1" y1="793.5" x2="2739.1" y2="801.5" stroke="#222" stroke-width="1.2"/><line x1="2745.9" y1="793.5" x2="2745.9" y2="801.5" stroke="#222" stroke-width="1.2"/><line x1="2752.7" y1="793.5" x2="2752.7" y2="801.5" stroke="#222" stroke-width="1.2"/><line x1="2759.5" y1="793.5" x2="2759.5" y2="801.5" stroke="#222" stroke-width="1.2"/><line x1="2766.3" y1="793.5" x2="2766.3" y2="801.5" stroke="#222" stroke-width="1.2"/><line x1="2773.1" y1="793.5" x2="2773.1" y2="801.5" stroke="#222" stroke-width="1.2"/><line x1="2779.9" y1="793.5" x2="2779.9" y2="801.5" stroke="#222" stroke-width="1.2"/><line x1="2786.7" y1="793.5" x2="2786.7" y2="801.5" stroke="#222" stroke-width="1.2"/><line x1="2793.5" y1="793.5" x2="2793.5" y2="801.5" stroke="#222" stroke-width="1.2"/><line x1="2800.3" y1="793.5" x2="2800.3" y2="801.5" stroke="#222" stroke-width="1.2"/><line x1="2807.1" y1="793.5" x2="2807.1" y2="801.5" stroke="#222" stroke-width="1.2"/><line x1="2813.9" y1="793.5" x2="2813.9" y2="801.5" stroke="#222" stroke-width="1.2"/><line x1="2820.7" y1="793.5" x2="2820.7" y2="801.5" stroke="#222" stroke-width="1.2"/><line x1="2827.5" y1="793.5" x2="2827.5" y2="801.5" stroke="#222" stroke-width="1.2"/><line x1="2834.3" y1="793.5" x2="2834.3" y2="801.5" stroke="#222" stroke-width="1.2"/><line x1="2841.1" y1="793.5" x2="2841.1" y2="801.5" stroke="#222" stroke-width="1.2"/><line x1="2847.9" y1="793.5" x2="2847.9" y2="801.5" stroke="#222" stroke-width="1.2"/><line x1="2854.7" y1="793.5" x2="2854.7" y2="801.5" stroke="#222" stroke-width="1.2"/><line x1="2861.5" y1="793.5" x2="2861.5" y2="801.5" stroke="#222" stroke-width="1.2"/><line x1="2868.3" y1="793.5" x2="2868.3" y2="801.5" stroke="#222" stroke-width="1.2"/><line x1="2875.1" y1="793.5" x2="2875.1" y2="801.5" stroke="#222" stroke-width="1.2"/><line x1="2881.9" y1="793.5" x2="2881.9" y2="801.5" stroke="#222" stroke-width="1.2"/><line x1="2888.7" y1="793.5" x2="2888.7" y2="801.5" stroke="#222" stroke-width="1.2"/><line x1="2895.5" y1="793.5" x2="2895.5" y2="801.5" stroke="#222" stroke-width="1.2"/><line x1="2902.3" y1="793.5" x2="2902.3" y2="801.5" stroke="#222" stroke-width="1.2"/><line x1="2909.1" y1="793.5" x2="2909.1" y2="801.5" stroke="#222" stroke-width="1.2"/><line x1="2915.9" y1="793.5" x2="2915.9" y2="801.5" stroke="#222" stroke-width="1.2"/><line x1="2922.7" y1="793.5" x2="2922.7" y2="801.5" stroke="#222" stroke-width="1.2"/><line x1="2929.5" y1="793.5" x2="2929.5" y2="801.5" stroke="#222" stroke-width="1.2"/><line x1="2936.3" y1="793.5" x2="2936.3" y2="801.5" stroke="#222" stroke-width="1.2"/><line x1="2943.1" y1="793.5" x2="2943.1" y2="801.5" stroke="#222" stroke-width="1.2"/><line x1="2949.9" y1="793.5" x2="2949.9" y2="801.5" stroke="#222" stroke-width="1.2"/><line x1="2956.7" y1="793.5" x2="2956.7" y2="801.5" stroke="#222" stroke-width="1.2"/><line x1="2963.5" y1="793.5" x2="2963.5" y2="801.5" stroke="#222" stroke-width="1.2"/><line x1="2970.3" y1="793.5" x2="2970.3" y2="801.5" stroke="#222" stroke-width="1.2"/><line x1="2977.1" y1="793.5" x2="2977.1" y2="801.5" stroke="#222" stroke-width="1.2"/><line x1="2983.9" y1="793.5" x2="2983.9" y2="801.5" stroke="#222" stroke-width="1.2"/><line x1="2990.7" y1="793.5" x2="2990.7" y2="801.5" stroke="#222" stroke-width="1.2"/><line x1="2997.5" y1="793.5" x2="2997.5" y2="801.5" stroke="#222" stroke-width="1.2"/><line x1="3004.3" y1="793.5" x2="3004.3" y2="801.5" stroke="#222" stroke-width="1.2"/><line x1="3011.1" y1="793.5" x2="3011.1" y2="801.5" stroke="#222" stroke-width="1.2"/><line x1="3017.9" y1="793.5" x2="3017.9" y2="801.5" stroke="#222" stroke-width="1.2"/><line x1="3024.7" y1="793.5" x2="3024.7" y2="801.5" stroke="#222" stroke-width="1.2"/><line x1="3031.5" y1="793.5" x2="3031.5" y2="801.5" stroke="#222" stroke-width="1.2"/><line x1="3038.3" y1="793.5" x2="3038.3" y2="801.5" stroke="#222" stroke-width="1.2"/><line x1="3045.1" y1="793.5" x2="3045.1" y2="801.5" stroke="#222" stroke-width="1.2"/><line x1="3051.9" y1="793.5" x2="3051.9" y2="801.5" stroke="#222" stroke-width="1.2"/><line x1="3058.7" y1="793.5" x2="3058.7" y2="801.5" stroke="#222" stroke-width="1.2"/><line x1="3065.5" y1="793.5" x2="3065.5" y2="801.5" stroke="#222" stroke-width="1.2"/><line x1="3072.3" y1="793.5" x2="3072.3" y2="801.5" stroke="#222" stroke-width="1.2"/><line x1="3079.1" y1="793.5" x2="3079.1" y2="801.5" stroke="#222" stroke-width="1.2"/><line x1="3085.9" y1="793.5" x2="3085.9" y2="801.5" stroke="#222" stroke-width="1.2"/><line x1="3092.7" y1="793.5" x2="3092.7" y2="801.5" stroke="#222" stroke-width="1.2"/><line x1="3099.5" y1="793.5" x2="3099.5" y2="801.5" stroke="#222" stroke-width="1.2"/><text x="2278.5" y="814" font-size="14.3" fill="#111" transform="rotate(29 2278.5 814)">2018-09-17</text><text x="2366.9" y="814" font-size="14.3" fill="#111" transform="rotate(29 2366.9 814)">2018-09-30</text><text x="2455.3" y="814" font-size="14.3" fill="#111" transform="rotate(29 2455.3 814)">2018-10-13</text><text x="2543.7" y="814" font-size="14.3" fill="#111" transform="rotate(29 2543.7 814)">2018-10-26</text><text x="2632.1" y="814" font-size="14.3" fill="#111" transform="rotate(29 2632.1 814)">2018-11-08</text><text x="2720.5" y="814" font-size="14.3" fill="#111" transform="rotate(29 2720.5 814)">2018-11-21</text><text x="2808.9" y="814" font-size="14.3" fill="#111" transform="rotate(29 2808.9 814)">2018-12-04</text><text x="2897.3" y="814" font-size="14.3" fill="#111" transform="rotate(29 2897.3 814)">2018-12-17</text><text x="2985.7" y="814" font-size="14.3" fill="#111" transform="rotate(29 2985.7 814)">2018-12-30</text><text x="3074.1" y="814" font-size="14.3" fill="#111" transform="rotate(29 3074.1 814)">2019-01-12</text><path d="M2283.5 758.7 C2284.4 749.2 2289.2 688.5 2290.8 677.1 C2292.4 665.6 2295.6 661.8 2297.0 660.7 C2298.4 659.7 2301.7 666.0 2302.9 668.2 C2304.2 670.5 2306.9 678.2 2307.8 680.4 C2308.7 682.6 2308.7 675.7 2310.7 687.0 C2312.7 698.3 2321.8 774.5 2325.0 777.4 C2328.2 780.4 2336.0 731.6 2338.2 712.4 C2340.5 693.1 2342.9 613.4 2344.4 612.6 C2346.0 611.9 2349.8 703.7 2351.5 706.2 C2353.2 708.6 2357.1 639.4 2358.8 633.6 C2360.4 627.8 2364.2 651.6 2365.8 656.1 C2367.4 660.7 2371.0 666.4 2372.4 672.7 C2373.9 678.9 2376.5 710.5 2378.0 709.7 C2379.4 708.9 2383.5 675.5 2385.0 666.0 C2386.6 656.6 2389.7 634.5 2391.2 628.5 C2392.6 622.6 2396.1 612.8 2397.4 614.9 C2398.7 616.9 2400.5 630.0 2402.2 646.2 C2403.9 662.4 2409.6 752.3 2411.7 753.6 C2413.8 755.0 2418.1 664.0 2419.9 657.7 C2421.6 651.3 2424.8 689.8 2426.5 699.1 C2428.2 708.5 2432.9 735.2 2434.6 737.7 C2436.4 740.3 2440.1 722.6 2441.5 721.2 C2442.8 719.8 2445.0 726.4 2446.3 726.0 C2447.7 725.7 2451.2 725.1 2453.0 717.9 C2454.7 710.7 2459.3 669.3 2461.1 664.5 C2462.9 659.7 2466.9 675.3 2468.4 677.1 C2469.9 678.8 2472.4 681.5 2473.9 679.7 C2475.4 678.0 2480.3 664.1 2481.2 662.1" fill="none" stroke="#8dc63f" stroke-width="1.7"/><line x1="2283.5" y1="698" x2="2475" y2="685.9" stroke="#14258c" stroke-width="3.6" stroke-dasharray="8 6"/><line x1="2488.3" y1="684.8" x2="3095.6" y2="645.6" stroke="#3a86d0" stroke-width="1.6"/><ellipse cx="2288.6" cy="605.4" rx="3" ry="2.6" fill="none" stroke="#111" stroke-width="1.5"/><rect x="2516" y="871" width="14.4" height="14.4" fill="#8dc63f"/><text x="2539.4" y="885.3" font-size="16.8" text-anchor="start" fill="#222" font-weight="normal" >Average</text><rect x="2615" y="871" width="14.4" height="14.4" fill="#14258c"/><text x="2637.7" y="885.3" font-size="16.8" text-anchor="start" fill="#222" font-weight="normal" >Estimation</text><rect x="2730.4" y="871" width="14.4" height="14.4" fill="#2a7fd0"/><text x="2752.6" y="885.3" font-size="16.8" text-anchor="start" fill="#222" font-weight="normal" >Projection</text></svg>
<svg class="abs" style="left:0;top:0" width="3174" height="1564" font-family="Liberation Sans, sans-serif"><text x="2674.7" y="1020.9" font-size="21" text-anchor="middle" fill="#555">Indicator : <tspan font-weight="bold">queue</tspan>. Current value: <tspan font-weight="bold">497.0</tspan></text><text x="2674.7" y="1047.4" font-size="21" text-anchor="middle" fill="#555">Service : <tspan font-weight="bold" fill="#1a35dd">postfix-queue</tspan> on <tspan font-weight="bold">mail-earth-frontend</tspan></text><path d="M2269.4 1263.0 L2305.3 1263.0 L2341.2 1263.0 L2377.0 1263.0 L2412.9 1263.0 L2448.8 1263.0 L2484.7 1263.0 L2520.6 1263.0 L2556.4 1156.1 L2592.3 1167.1 L2628.2 1165.7 L2664.1 1167.3 L2700.0 1166.9 L2735.8 1166.5 L2771.7 1166.5 L2807.6 1166.1 L2843.5 1166.5 L2879.4 1136.4 L2915.2 1091.0 L2915.2 1281.3 L2269.4 1281.3 Z" fill="#e9eff7"/><path d="M2269.4 1263.0 L2305.3 1263.0 L2341.2 1263.0 L2377.0 1263.0 L2412.9 1263.0 L2448.8 1263.0 L2484.7 1263.0 L2520.6 1263.0 L2556.4 1156.1 L2592.3 1167.1 L2628.2 1165.7 L2664.1 1167.3 L2700.0 1166.9 L2735.8 1166.5 L2771.7 1166.5 L2807.6 1166.1 L2843.5 1166.5 L2879.4 1136.4 L2915.2 1091.0" fill="none" stroke="#97b9d6" stroke-width="1.6"/><path d="M2269.4 1263.2 C2275.4 1263.2 2293.3 1263.2 2305.3 1263.2 C2317.2 1263.2 2329.2 1263.2 2341.2 1263.2 C2353.1 1263.2 2365.1 1263.2 2377.0 1263.2 C2389.0 1263.2 2401.0 1263.2 2412.9 1263.2 C2424.9 1263.2 2436.8 1263.2 2448.8 1263.2 C2460.8 1263.2 2472.7 1263.2 2484.7 1263.2 C2496.6 1263.2 2508.6 1277.8 2520.6 1263.2 C2532.5 1248.7 2544.5 1191.0 2556.4 1176.1 C2568.4 1161.3 2580.4 1174.7 2592.3 1174.1 C2604.3 1173.6 2616.2 1173.1 2628.2 1172.9 C2640.2 1172.7 2652.1 1172.9 2664.1 1172.9 C2676.0 1172.9 2688.0 1172.9 2700.0 1172.9 C2711.9 1172.9 2723.9 1172.9 2735.8 1172.9 C2747.8 1172.9 2759.8 1172.9 2771.7 1172.9 C2783.7 1172.9 2795.6 1172.9 2807.6 1172.9 C2819.6 1172.9 2831.5 1172.9 2843.5 1172.9 C2855.4 1172.9 2867.4 1172.8 2879.4 1172.9 C2891.3 1173.1 2903.3 1158.9 2915.2 1173.7 C2927.2 1188.6 2939.2 1247.1 2951.1 1262.0 C2963.1 1277.0 2975.0 1263.0 2987.0 1263.2 C2999.0 1263.4 3010.9 1263.2 3022.9 1263.2 C3034.8 1263.2 3046.8 1263.2 3058.8 1263.2 C3070.7 1263.2 3088.7 1263.2 3094.6 1263.2" fill="none" stroke="#8dc63f" stroke-width="1.5"/><path d="M2269.4 1262.4 C2275.4 1262.4 2293.3 1262.4 2305.3 1262.4 C2317.2 1262.4 2329.2 1262.4 2341.2 1262.4 C2353.1 1262.4 2365.1 1262.4 2377.0 1262.4 C2389.0 1262.4 2401.0 1262.4 2412.9 1262.4 C2424.9 1262.4 2436.8 1262.4 2448.8 1262.4 C2460.8 1262.4 2472.7 1262.4 2484.7 1262.4 C2496.6 1262.4 2508.6 1278.4 2520.6 1262.4 C2532.5 1246.5 2544.5 1184.2 2556.4 1166.9 C2568.4 1149.6 2580.4 1159.9 2592.3 1158.9 C2604.3 1157.8 2616.2 1160.4 2628.2 1160.5 C2640.2 1160.5 2652.1 1158.2 2664.1 1159.3 C2676.0 1160.3 2688.0 1165.8 2700.0 1166.9 C2711.9 1168.0 2723.9 1167.6 2735.8 1166.1 C2747.8 1164.6 2759.8 1158.5 2771.7 1157.7 C2783.7 1156.8 2795.6 1160.3 2807.6 1160.9 C2819.6 1161.4 2831.5 1161.1 2843.5 1160.9 C2855.4 1160.7 2867.4 1159.7 2879.4 1159.7 C2891.3 1159.6 2903.3 1143.9 2915.2 1160.5 C2927.2 1177.1 2939.2 1242.2 2951.1 1259.2 C2963.1 1276.2 2975.0 1261.9 2987.0 1262.4 C2999.0 1263.0 3010.9 1262.4 3022.9 1262.4 C3034.8 1262.4 3046.8 1262.4 3058.8 1262.4 C3070.7 1262.4 3088.7 1262.4 3094.6 1262.4" fill="none" stroke="#2a7fd0" stroke-width="1.5"/><path d="M2269.4 1261.2 C2275.4 1261.2 2293.3 1261.2 2305.3 1261.2 C2317.2 1261.2 2329.2 1261.2 2341.2 1261.2 C2353.1 1261.2 2365.1 1261.2 2377.0 1261.2 C2389.0 1261.2 2401.0 1261.2 2412.9 1261.2 C2424.9 1261.2 2436.8 1261.2 2448.8 1261.2 C2460.8 1261.2 2472.7 1261.2 2484.7 1261.2 C2496.6 1261.2 2508.6 1291.4 2520.6 1261.2 C2532.5 1231.1 2544.5 1110.2 2556.4 1080.2 C2568.4 1050.2 2580.4 1080.9 2592.3 1081.0 C2604.3 1081.1 2616.2 1081.1 2628.2 1081.0 C2640.2 1080.9 2652.1 1077.7 2664.1 1080.6 C2676.0 1083.5 2688.0 1098.0 2700.0 1098.3 C2711.9 1098.5 2723.9 1085.0 2735.8 1082.2 C2747.8 1079.4 2759.8 1081.6 2771.7 1081.4 C2783.7 1081.2 2795.6 1081.1 2807.6 1081.0 C2819.6 1080.9 2831.5 1080.6 2843.5 1080.6 C2855.4 1080.6 2867.4 1080.8 2879.4 1081.0 C2891.3 1081.2 2903.3 1081.5 2915.2 1081.8 C2927.2 1082.1 2939.2 1052.6 2951.1 1082.6 C2963.1 1112.6 2975.0 1232.3 2987.0 1262.0 C2999.0 1291.8 3010.9 1261.4 3022.9 1261.2 C3034.8 1261.1 3046.8 1261.2 3058.8 1261.2 C3070.7 1261.2 3088.7 1261.2 3094.6 1261.2" fill="none" stroke="#1c2a9a" stroke-width="1.5"/><path d="M2252.4 1061 H2260.4 V1281.3 H3102.6 V1289.3" fill="none" stroke="#222" stroke-width="1.5"/><line x1="2252.4" y1="1281.3" x2="2260.4" y2="1281.3" stroke="#222" stroke-width="1.3"/><text x="2248.0" y="1286.3" font-size="14.3" text-anchor="end" fill="#111" font-weight="normal" >0</text><line x1="2252.4" y1="1261.2" x2="2260.4" y2="1261.2" stroke="#222" stroke-width="1.3"/><text x="2248.0" y="1266.2" font-size="14.3" text-anchor="end" fill="#111" font-weight="normal" >50.00</text><line x1="2252.4" y1="1241.2" x2="2260.4" y2="1241.2" stroke="#222" stroke-width="1.3"/><text x="2248.0" y="1246.2" font-size="14.3" text-anchor="end" fill="#111" font-weight="normal" >100.0</text><line x1="2252.4" y1="1221.1" x2="2260.4" y2="1221.1" stroke="#222" stroke-width="1.3"/><text x="2248.0" y="1226.1" font-size="14.3" text-anchor="end" fill="#111" font-weight="normal" >150.0</text><line x1="2252.4" y1="1201.0" x2="2260.4" y2="1201.0" stroke="#222" stroke-width="1.3"/><text x="2248.0" y="1206.0" font-size="14.3" text-anchor="end" fill="#111" font-weight="normal" >200.0</text><line x1="2252.4" y1="1181.0" x2="2260.4" y2="1181.0" stroke="#222" stroke-width="1.3"/><text x="2248.0" y="1186.0" font-size="14.3" text-anchor="end" fill="#111" font-weight="normal" >250.0</text><line x1="2252.4" y1="1160.9" x2="2260.4" y2="1160.9" stroke="#222" stroke-width="1.3"/><text x="2248.0" y="1165.9" font-size="14.3" text-anchor="end" fill="#111" font-weight="normal" >300.0</text><line x1="2252.4" y1="1140.8" x2="2260.4" y2="1140.8" stroke="#222" stroke-width="1.3"/><text x="2248.0" y="1145.8" font-size="14.3" text-anchor="end" fill="#111" font-weight="normal" >350.0</text><line x1="2252.4" y1="1120.7" x2="2260.4" y2="1120.7" stroke="#222" stroke-width="1.3"/><text x="2248.0" y="1125.7" font-size="14.3" text-anchor="end" fill="#111" font-weight="normal" >400.0</text><line x1="2252.4" y1="1100.7" x2="2260.4" y2="1100.7" stroke="#222" stroke-width="1.3"/><text x="2248.0" y="1105.7" font-size="14.3" text-anchor="end" fill="#111" font-weight="normal" >450.0</text><line x1="2252.4" y1="1080.6" x2="2260.4" y2="1080.6" stroke="#222" stroke-width="1.3"/><text x="2248.0" y="1085.6" font-size="14.3" text-anchor="end" fill="#111" font-weight="normal" >500.0</text><line x1="2269.4" y1="1281.3" x2="2269.4" y2="1289.3" stroke="#222" stroke-width="1.3"/><text x="2269.4" y="1304.6" font-size="14.3" text-anchor="middle" fill="#111" font-weight="normal" >0</text><line x1="2305.3" y1="1281.3" x2="2305.3" y2="1289.3" stroke="#222" stroke-width="1.3"/><line x1="2341.2" y1="1281.3" x2="2341.2" y2="1289.3" stroke="#222" stroke-width="1.3"/><line x1="2377.0" y1="1281.3" x2="2377.0" y2="1289.3" stroke="#222" stroke-width="1.3"/><text x="2377.0" y="1304.6" font-size="14.3" text-anchor="middle" fill="#111" font-weight="normal" >3</text><line x1="2412.9" y1="1281.3" x2="2412.9" y2="1289.3" stroke="#222" stroke-width="1.3"/><line x1="2448.8" y1="1281.3" x2="2448.8" y2="1289.3" stroke="#222" stroke-width="1.3"/><line x1="2484.7" y1="1281.3" x2="2484.7" y2="1289.3" stroke="#222" stroke-width="1.3"/><text x="2484.7" y="1304.6" font-size="14.3" text-anchor="middle" fill="#111" font-weight="normal" >6</text><line x1="2520.6" y1="1281.3" x2="2520.6" y2="1289.3" stroke="#222" stroke-width="1.3"/><line x1="2556.4" y1="1281.3" x2="2556.4" y2="1289.3" stroke="#222" stroke-width="1.3"/><line x1="2592.3" y1="1281.3" x2="2592.3" y2="1289.3" stroke="#222" stroke-width="1.3"/><text x="2592.3" y="1304.6" font-size="14.3" text-anchor="middle" fill="#111" font-weight="normal" >9</text><line x1="2628.2" y1="1281.3" x2="2628.2" y2="1289.3" stroke="#222" stroke-width="1.3"/><line x1="2664.1" y1="1281.3" x2="2664.1" y2="1289.3" stroke="#222" stroke-width="1.3"/><line x1="2700.0" y1="1281.3" x2="2700.0" y2="1289.3" stroke="#222" stroke-width="1.3"/><text x="2700.0" y="1304.6" font-size="14.3" text-anchor="middle" fill="#111" font-weight="normal" >12</text><line x1="2735.8" y1="1281.3" x2="2735.8" y2="1289.3" stroke="#222" stroke-width="1.3"/><line x1="2771.7" y1="1281.3" x2="2771.7" y2="1289.3" stroke="#222" stroke-width="1.3"/><line x1="2807.6" y1="1281.3" x2="2807.6" y2="1289.3" stroke="#222" stroke-width="1.3"/><text x="2807.6" y="1304.6" font-size="14.3" text-anchor="middle" fill="#111" font-weight="normal" >15</text><line x1="2843.5" y1="1281.3" x2="2843.5" y2="1289.3" stroke="#222" stroke-width="1.3"/><line x1="2879.4" y1="1281.3" x2="2879.4" y2="1289.3" stroke="#222" stroke-width="1.3"/><line x1="2915.2" y1="1281.3" x2="2915.2" y2="1289.3" stroke="#222" stroke-width="1.3"/><text x="2915.2" y="1304.6" font-size="14.3" text-anchor="middle" fill="#111" font-weight="normal" >18</text><line x1="2951.1" y1="1281.3" x2="2951.1" y2="1289.3" stroke="#222" stroke-width="1.3"/><line x1="2987.0" y1="1281.3" x2="2987.0" y2="1289.3" stroke="#222" stroke-width="1.3"/><line x1="3022.9" y1="1281.3" x2="3022.9" y2="1289.3" stroke="#222" stroke-width="1.3"/><text x="3022.9" y="1304.6" font-size="14.3" text-anchor="middle" fill="#111" font-weight="normal" >21</text><line x1="3058.8" y1="1281.3" x2="3058.8" y2="1289.3" stroke="#222" stroke-width="1.3"/><line x1="3094.6" y1="1281.3" x2="3094.6" y2="1289.3" stroke="#222" stroke-width="1.3"/><line x1="2260.4" y1="1281.3" x2="2260.4" y2="1289.3" stroke="#222" stroke-width="1.3"/><text x="3102.0" y="1324.1" font-size="14.1" text-anchor="end" fill="#111" font-weight="normal" >Hours of a typical 24h day</text><rect x="2523.5" y="1335.8" width="14.2" height="14.2" fill="#8dc63f"/><text x="2546.9" y="1350.2" font-size="16.8" text-anchor="start" fill="#222" font-weight="normal" >Min</text><rect x="2587" y="1335.8" width="14.2" height="14.2" fill="#2a7fd0"/><text x="2609.6" y="1350.2" font-size="16.8" text-anchor="start" fill="#222" font-weight="normal" >Average</text><rect x="2685.2" y="1335.8" width="14.2" height="14.2" fill="#1c2a9a"/><text x="2707.8" y="1350.2" font-size="16.8" text-anchor="start" fill="#222" font-weight="normal" >Max</text><rect x="2752.6" y="1335.8" width="14.2" height="14.2" fill="#97b9d6"/><text x="2776.0" y="1350.2" font-size="16.8" text-anchor="start" fill="#222" font-weight="normal" >Today</text></svg>
<svg class="abs" style="left:0;top:0" width="3174" height="1564" font-family="Liberation Sans, sans-serif"><text x="1231.6" y="1551.7" font-size="14.8" text-anchor="start" fill="#fff" font-weight="bold" letter-spacing="-0.2">Documentation</text><text x="1392.9" y="1551.7" font-size="14.8" text-anchor="start" fill="#fff" font-weight="bold" letter-spacing="-0.2">Centreon Support</text><text x="1568.8" y="1551.7" font-size="14.8" text-anchor="start" fill="#fff" font-weight="bold" letter-spacing="-0.2">Centreon</text><text x="1686.6" y="1551.7" font-size="14.8" text-anchor="start" fill="#fff" font-weight="bold" letter-spacing="-0.2">Github Project</text><text x="1839.0" y="1551.7" font-size="14.8" text-anchor="start" fill="#fff" font-weight="bold" letter-spacing="-0.2">Slack</text><text x="1364.5" y="1551.7" font-size="14.8" text-anchor="middle" fill="#fff" font-weight="bold" >|</text><text x="1540.5" y="1551.7" font-size="14.8" text-anchor="middle" fill="#fff" font-weight="bold" >|</text><text x="1657.6" y="1551.7" font-size="14.8" text-anchor="middle" fill="#fff" font-weight="bold" >|</text><text x="1810.8" y="1551.7" font-size="14.8" text-anchor="middle" fill="#fff" font-weight="bold" >|</text><text x="2871.0" y="1551.7" font-size="15" text-anchor="start" fill="#fff" font-weight="bold" letter-spacing="-0.3">Copyright © 2005 - 2018</text><rect x="3111.5" y="1503.3" width="47.3" height="40.2" rx="5" fill="#020914"/><g fill="none" stroke="#f4f4f4" stroke-width="2.6"><path d="M3120 1514 V1509.5 H3128 M3142 1509.5 H3150.5 V1514 M3150.5 1531 V1536.5 H3142 M3128 1536.5 H3120 V1531"/></g><rect x="3126" y="1514.5" width="18.5" height="17" fill="none" stroke="#f4f4f4" stroke-width="4"/></svg>
<!-- /CHARTS -->

</body></html>
